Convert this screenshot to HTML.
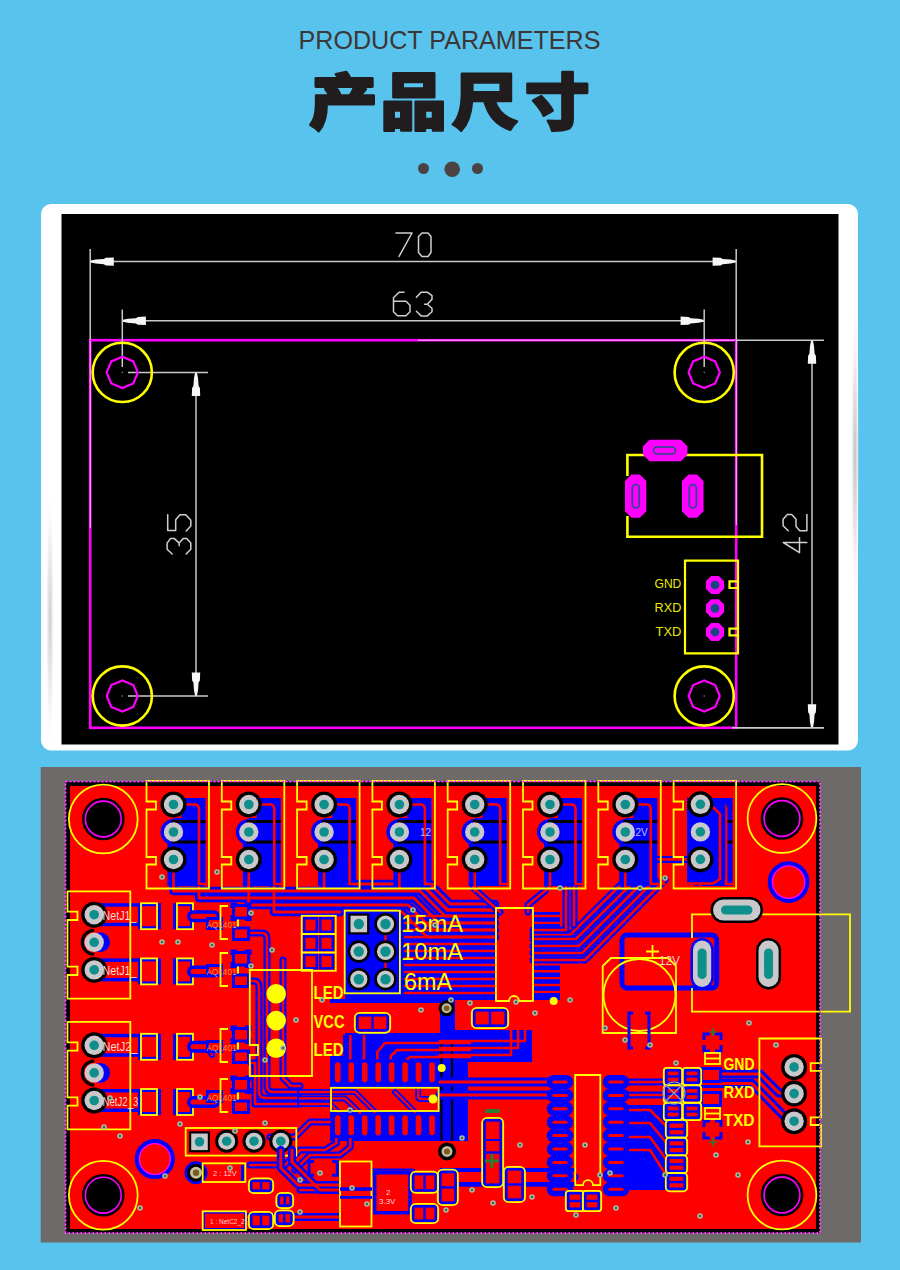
<!DOCTYPE html>
<html><head><meta charset="utf-8"><style>
html,body{margin:0;padding:0;background:#58c3ec;width:900px;height:1270px;overflow:hidden}
svg{display:block;font-family:"Liberation Sans",sans-serif}
</style></head><body>
<svg width="900" height="1270" viewBox="0 0 900 1270">
<rect width="900" height="1270" fill="#58c3ec"/>
<text x="298.5" y="49.3" font-family="Liberation Sans" font-size="26" fill="#3d3636" textLength="302" lengthAdjust="spacingAndGlyphs">PRODUCT PARAMETERS</text>
<path transform="translate(309.06,124.50) scale(0.06869,-0.06087)" d="M390 826C402 807 415 784 426 761H98V623H324L236 585C259 553 283 512 299 477H103V337C103 236 97 94 18 -5C50 -24 116 -81 140 -110C236 9 256 204 256 335H941V477H749L827 579L685 623H922V761H599C587 792 564 832 542 861ZM380 477 447 507C434 541 405 586 377 623H660C645 577 619 519 595 477Z" fill="#211d1e" stroke="#211d1e" stroke-width="2.6" stroke-linejoin="round" vector-effect="non-scaling-stroke"/>
<path transform="translate(380.42,124.72) scale(0.06640,-0.06294)" d="M336 678H661V575H336ZM196 817V437H810V817ZM63 366V-95H200V-47H315V-91H460V366ZM200 92V227H315V92ZM531 366V-95H670V-47H792V-91H938V366ZM670 92V227H792V92Z" fill="#211d1e" stroke="#211d1e" stroke-width="2.6" stroke-linejoin="round" vector-effect="non-scaling-stroke"/>
<path transform="translate(451.90,124.57) scale(0.06653,-0.06129)" d="M151 830V521C151 364 142 146 15 3C49 -15 114 -70 139 -100C250 23 290 219 302 384H488C554 150 658 -8 877 -85C898 -43 943 20 977 51C795 103 693 222 640 384H887V830ZM307 688H734V526H307Z" fill="#211d1e" stroke="#211d1e" stroke-width="2.6" stroke-linejoin="round" vector-effect="non-scaling-stroke"/>
<path transform="translate(524.84,124.65) scale(0.06485,-0.06165)" d="M128 388C192 314 265 212 292 145L428 229C396 299 318 394 253 463ZM580 854V661H41V516H580V89C580 67 570 59 546 59C519 59 435 59 356 63C381 21 412 -53 421 -98C526 -99 609 -93 664 -69C718 -44 737 -3 737 88V516H960V661H737V854Z" fill="#211d1e" stroke="#211d1e" stroke-width="2.6" stroke-linejoin="round" vector-effect="non-scaling-stroke"/>
<g fill="#4a4243"><circle cx="423.5" cy="168.5" r="5.5"/><circle cx="452.2" cy="169.3" r="7.8"/><circle cx="477.5" cy="168.5" r="5.5"/></g>
<defs><radialGradient id="sh"><stop offset="0" stop-color="#b8b8b8" stop-opacity="0.9"/><stop offset="0.5" stop-color="#c8c8c8" stop-opacity="0.45"/><stop offset="1" stop-color="#ffffff" stop-opacity="0"/></radialGradient></defs>
<rect x="41" y="204" width="817" height="546.5" rx="10" fill="#fff"/>
<ellipse cx="855" cy="455" rx="4.5" ry="160" fill="url(#sh)"/>
<ellipse cx="50" cy="620" rx="4.5" ry="140" fill="url(#sh)" opacity="0.8"/>
<rect x="61.5" y="214" width="777" height="530.5" fill="#000"/>
<rect x="90.2" y="340.2" width="646" height="387.6" fill="none" stroke="#ff00ff" stroke-width="2.6"/>
<g stroke="#f2b8f2" stroke-width="1.1" fill="none"><path d="M90.2,341 V528 M736.3,341 V525 M418,340.2 H735"/></g>
<g stroke="#c9c9c9" stroke-width="1.5" fill="none">
<path d="M90.2,249 V340 M736.2,249 V340 M90.2,261.6 H736.2"/>
<path d="M122.3,309.5 V367 M704.2,309.5 V367 M122.3,320.8 H704.2"/>
<path d="M128,372.4 H208 M128,696 H208 M196,372.4 V696"/>
<path d="M736,340.2 H824 M736,727.8 H824 M812,340.2 V727.8"/>
<path d="M732,727.8 H824"/>
</g>
<g fill="#f6f6f6">
<polygon points="90.8,260.6 95.8,259.6 103.8,259.0 105.8,257.7 113.8,257.4 113.8,265.8 105.8,265.5 103.8,264.2 95.8,263.6 90.8,262.6"/>
<polygon points="735.6,262.6 730.6,263.6 722.6,264.2 720.6,265.5 712.6,265.8 712.6,257.4 720.6,257.7 722.6,259.0 730.6,259.6 735.6,260.6"/>
<polygon points="122.9,319.8 127.9,318.8 135.9,318.2 137.9,316.9 145.9,316.6 145.9,325.0 137.9,324.7 135.9,323.4 127.9,322.8 122.9,321.8"/>
<polygon points="703.6,321.8 698.6,322.8 690.6,323.4 688.6,324.7 680.6,325.0 680.6,316.6 688.6,316.9 690.6,318.2 698.6,318.8 703.6,319.8"/>
<polygon points="197.0,373.0 198.0,378.0 198.6,386.0 199.9,388.0 200.2,396.0 191.8,396.0 192.1,388.0 193.4,386.0 194.0,378.0 195.0,373.0"/>
<polygon points="195.0,695.4 194.0,690.4 193.4,682.4 192.1,680.4 191.8,672.4 200.2,672.4 199.9,680.4 198.6,682.4 198.0,690.4 197.0,695.4"/>
<polygon points="813.0,340.8 814.0,345.8 814.6,353.8 815.9,355.8 816.2,363.8 807.8,363.8 808.1,355.8 809.4,353.8 810.0,345.8 811.0,340.8"/>
<polygon points="811.0,727.2 810.0,722.2 809.4,714.2 808.1,712.2 807.8,704.2 816.2,704.2 815.9,712.2 814.6,714.2 814.0,722.2 813.0,727.2"/>
</g>
<g stroke="#d0d0d0" stroke-width="1.5" fill="none" stroke-linejoin="round" stroke-linecap="round">
<path transform="translate(395.5,232.5)" d="M0.5,0.5 L16.5,0.5 L3.5,24"/>
<path transform="translate(418,232.5)" d="M4,0.5 L10,0.5 L13,4 L13,20 L10,24 L4,24 L0.5,20 L0.5,4 Z"/>
<path transform="translate(393,291.8)" d="M11,0.5 L6,0.5 L0.5,6 L0.5,20 L4.5,24 L13,24 L17,20 L17,13.5 L13,9.5 L0.5,9.5"/>
<path transform="translate(416,291.8)" d="M0.4,5.5 L5.1,0.4 L11.3,0.4 L16,3.9 L16,7.4 L11.3,12.5 L8.6,12.5 M11.3,12.5 L16,16.5 L16,19.9 L11.3,24.1 L5.1,24.1 L0.4,19.5"/>
<path transform="translate(166.7,554.4) rotate(-90)" d="M0.4,5.5 L5.1,0.4 L11.3,0.4 L16,3.9 L16,7.4 L11.3,12.5 L8.6,12.5 M11.3,12.5 L16,16.5 L16,19.9 L11.3,24.1 L5.1,24.1 L0.4,19.5"/>
<path transform="translate(166.7,531.4) rotate(-90)" d="M16.7,1 L0.8,1 L0.8,9 L11.6,9 L16.7,13.3 L16.7,19.1 L11.2,24.1 L5.4,24.1 L0.4,19.5"/>
<path transform="translate(782.8,553) rotate(-90)" d="M10.5,0.5 L0.4,16.7 L15.2,16.7 M10.5,0.5 L10.5,24.1"/>
<path transform="translate(782.8,531) rotate(-90)" d="M0.2,5.4 L5.2,0.3 L11.8,0.3 L16.5,4.6 L16.5,8.9 L11.8,13.2 L4.4,13.2 L0.2,17 L0.2,24.1 L16.5,24.1"/>
</g>
<circle cx="122.3" cy="372.4" r="29.6" fill="none" stroke="#ffff00" stroke-width="2.6"/>
<polygon points="122.3,356.8 111.3,361.4 106.7,372.4 111.3,383.4 122.3,388.0 133.3,383.4 137.9,372.4 133.3,361.4" fill="none" stroke="#ff00ff" stroke-width="2.2"/>
<rect x="121.7" y="371.79999999999995" width="1.2" height="1.2" fill="#999"/>
<circle cx="704.2" cy="372.4" r="29.6" fill="none" stroke="#ffff00" stroke-width="2.6"/>
<polygon points="704.2,356.8 693.2,361.4 688.6,372.4 693.2,383.4 704.2,388.0 715.2,383.4 719.8,372.4 715.2,361.4" fill="none" stroke="#ff00ff" stroke-width="2.2"/>
<rect x="703.6" y="371.79999999999995" width="1.2" height="1.2" fill="#999"/>
<circle cx="122.3" cy="696" r="29.6" fill="none" stroke="#ffff00" stroke-width="2.6"/>
<polygon points="122.3,680.4 111.3,685.0 106.7,696.0 111.3,707.0 122.3,711.6 133.3,707.0 137.9,696.0 133.3,685.0" fill="none" stroke="#ff00ff" stroke-width="2.2"/>
<rect x="121.7" y="695.4" width="1.2" height="1.2" fill="#999"/>
<circle cx="704.2" cy="696" r="29.6" fill="none" stroke="#ffff00" stroke-width="2.6"/>
<polygon points="704.2,680.4 693.2,685.0 688.6,696.0 693.2,707.0 704.2,711.6 715.2,707.0 719.8,696.0 715.2,685.0" fill="none" stroke="#ff00ff" stroke-width="2.2"/>
<rect x="703.6" y="695.4" width="1.2" height="1.2" fill="#999"/>
<path d="M627.4,476 V455 H762 V536.7 H627.4 V516" fill="none" stroke="#ffff00" stroke-width="2.6"/>
<polygon points="649.5,439.8 680.9,439.8 687.4,446.3 687.4,454.7 680.9,461.2 649.5,461.2 643,454.7 643,446.3" fill="#ff00ff"/>
<polygon points="631.5,474.4 639.8,474.4 646.3,480.9 646.3,511.29999999999995 639.8,517.8 631.5,517.8 625,511.29999999999995 625,480.9" fill="#ff00ff"/>
<polygon points="688.5,474.4 697.0,474.4 703.5,480.9 703.5,511.29999999999995 697.0,517.8 688.5,517.8 682,511.29999999999995 682,480.9" fill="#ff00ff"/>
<g fill="none" stroke="#1f4f86" stroke-width="1.6">
<rect x="653.5" y="447" width="22" height="7" rx="3.5"/>
<rect x="632.3" y="484.5" width="7" height="23.5" rx="3.5"/>
<rect x="689.3" y="484.5" width="7" height="23.5" rx="3.5"/>
</g>
<path d="M685,560.7 H738 V653.3 H685 Z M738,581.3 H729.5 V588 H738 M738,628.7 H729.5 V635.3 H738" fill="none" stroke="#ffff00" stroke-width="2.2"/>
<polygon points="711.2,575.9 705.9,581.2 705.9,588.8 711.2,594.1 718.8,594.1 724.1,588.8 724.1,581.2 718.8,575.9" fill="#ff00ff"/>
<circle cx="715" cy="585" r="4.3" fill="#124a80"/>
<polygon points="711.2,599.3 705.9,604.6 705.9,612.2 711.2,617.5 718.8,617.5 724.1,612.2 724.1,604.6 718.8,599.3" fill="#ff00ff"/>
<circle cx="715" cy="608.4" r="4.3" fill="#124a80"/>
<polygon points="711.2,622.9 705.9,628.2 705.9,635.8 711.2,641.1 718.8,641.1 724.1,635.8 724.1,628.2 718.8,622.9" fill="#ff00ff"/>
<circle cx="715" cy="632" r="4.3" fill="#124a80"/>
<g fill="#e8e800" font-family="Liberation Sans" font-size="13.5">
<text x="654.5" y="588.2" textLength="26.8" lengthAdjust="spacingAndGlyphs">GND</text>
<text x="654.5" y="611.8" textLength="26.8" lengthAdjust="spacingAndGlyphs">RXD</text>
<text x="655.5" y="635.5" textLength="25.8" lengthAdjust="spacingAndGlyphs">TXD</text>
</g>
<rect x="40.7" y="767" width="820.3" height="475.5" fill="#6e6a6a"/>
<rect x="65.5" y="781.5" width="754.5" height="451.5" fill="#000"/>
<rect x="70" y="786" width="746" height="443" fill="#ff0000"/>
<rect x="345" y="911" width="55.00" height="82.00" rx="0" fill="#0000ff"/>
<rect x="400" y="913" width="95.00" height="87.00" rx="0" fill="#0000ff"/>
<rect x="533" y="912" width="27.00" height="88.00" rx="0" fill="#0000ff"/>
<rect x="330" y="1056" width="112.00" height="85.00" rx="0" fill="#0000ff"/>
<rect x="343" y="1035" width="127.00" height="23.00" rx="0" fill="#0000ff"/>
<rect x="440" y="1030" width="92.00" height="32.00" rx="0" fill="#0000ff"/>
<rect x="440" y="1058" width="28.00" height="83.00" rx="0" fill="#0000ff"/>
<rect x="440.4" y="1040" width="2.20" height="101.00" rx="0" fill="#000"/>
<rect x="451" y="1040" width="2.20" height="101.00" rx="0" fill="#000"/>
<rect x="345" y="993" width="110.00" height="42.00" rx="0" fill="#0000ff"/>
<rect x="330" y="1000" width="110.00" height="33.00" rx="0" fill="#ff0000"/>
<rect x="330" y="999" width="110.00" height="4.00" rx="0" fill="#0000ff"/>
<rect x="331" y="1088.3" width="107.60" height="22.70" rx="0" fill="#ff0000"/>
<rect x="625" y="1105" width="47.00" height="85.00" rx="0" fill="#0000ff"/>
<path d="M173.5,870 V891 H420 L445,916 H495" fill="none" stroke="#0000ff" stroke-width="8.5" stroke-linejoin="round" stroke-linecap="round"/><path d="M199,884 V898 H414 L439,923 H495" fill="none" stroke="#0000ff" stroke-width="8.5" stroke-linejoin="round" stroke-linecap="round"/><path d="M248.8,870 V905 H408 L433,930 H495" fill="none" stroke="#0000ff" stroke-width="8.5" stroke-linejoin="round" stroke-linecap="round"/><path d="M274,884 V912 H340 M400,912 H402 L427,937 H495" fill="none" stroke="#0000ff" stroke-width="8.5" stroke-linejoin="round" stroke-linecap="round"/><path d="M324.1,870 V884 H430 L450,904 H495" fill="none" stroke="#0000ff" stroke-width="8.5" stroke-linejoin="round" stroke-linecap="round"/><path d="M173.5,870 V891 H420 L445,916 H495" fill="none" stroke="#ff0000" stroke-width="2.8" stroke-linejoin="round" stroke-linecap="round"/><path d="M199,884 V898 H414 L439,923 H495" fill="none" stroke="#ff0000" stroke-width="2.8" stroke-linejoin="round" stroke-linecap="round"/><path d="M248.8,870 V905 H408 L433,930 H495" fill="none" stroke="#ff0000" stroke-width="2.8" stroke-linejoin="round" stroke-linecap="round"/><path d="M274,884 V912 H340 M400,912 H402 L427,937 H495" fill="none" stroke="#ff0000" stroke-width="2.8" stroke-linejoin="round" stroke-linecap="round"/><path d="M324.1,870 V884 H430 L450,904 H495" fill="none" stroke="#ff0000" stroke-width="2.8" stroke-linejoin="round" stroke-linecap="round"/>
<path d="M405,916.0 H495" fill="none" stroke="#ff0000" stroke-width="2.6" stroke-linejoin="round" stroke-linecap="round"/><path d="M405,923.0 H495" fill="none" stroke="#ff0000" stroke-width="2.6" stroke-linejoin="round" stroke-linecap="round"/><path d="M405,930.0 H495" fill="none" stroke="#ff0000" stroke-width="2.6" stroke-linejoin="round" stroke-linecap="round"/><path d="M405,937.0 H495" fill="none" stroke="#ff0000" stroke-width="2.6" stroke-linejoin="round" stroke-linecap="round"/><path d="M405,944.0 H495" fill="none" stroke="#ff0000" stroke-width="2.6" stroke-linejoin="round" stroke-linecap="round"/><path d="M405,951.0 H495" fill="none" stroke="#ff0000" stroke-width="2.6" stroke-linejoin="round" stroke-linecap="round"/><path d="M405,958.0 H495" fill="none" stroke="#ff0000" stroke-width="2.6" stroke-linejoin="round" stroke-linecap="round"/><path d="M405,965.0 H495" fill="none" stroke="#ff0000" stroke-width="2.6" stroke-linejoin="round" stroke-linecap="round"/><path d="M405,972.0 H495" fill="none" stroke="#ff0000" stroke-width="2.6" stroke-linejoin="round" stroke-linecap="round"/><path d="M405,979.0 H495" fill="none" stroke="#ff0000" stroke-width="2.6" stroke-linejoin="round" stroke-linecap="round"/><path d="M405,986.0 H495" fill="none" stroke="#ff0000" stroke-width="2.6" stroke-linejoin="round" stroke-linecap="round"/><path d="M405,993.0 H495" fill="none" stroke="#ff0000" stroke-width="2.6" stroke-linejoin="round" stroke-linecap="round"/>
<path d="M533,916.0 H560" fill="none" stroke="#ff0000" stroke-width="2.4" stroke-linejoin="round" stroke-linecap="round"/><path d="M533,922.9 H560" fill="none" stroke="#ff0000" stroke-width="2.4" stroke-linejoin="round" stroke-linecap="round"/><path d="M533,929.8 H560" fill="none" stroke="#ff0000" stroke-width="2.4" stroke-linejoin="round" stroke-linecap="round"/><path d="M533,936.7 H560" fill="none" stroke="#ff0000" stroke-width="2.4" stroke-linejoin="round" stroke-linecap="round"/><path d="M533,943.6 H560" fill="none" stroke="#ff0000" stroke-width="2.4" stroke-linejoin="round" stroke-linecap="round"/><path d="M533,950.5 H560" fill="none" stroke="#ff0000" stroke-width="2.4" stroke-linejoin="round" stroke-linecap="round"/><path d="M533,957.4 H560" fill="none" stroke="#ff0000" stroke-width="2.4" stroke-linejoin="round" stroke-linecap="round"/><path d="M533,964.3 H560" fill="none" stroke="#ff0000" stroke-width="2.4" stroke-linejoin="round" stroke-linecap="round"/><path d="M533,971.2 H560" fill="none" stroke="#ff0000" stroke-width="2.4" stroke-linejoin="round" stroke-linecap="round"/><path d="M533,978.1 H560" fill="none" stroke="#ff0000" stroke-width="2.4" stroke-linejoin="round" stroke-linecap="round"/><path d="M533,985.0 H560" fill="none" stroke="#ff0000" stroke-width="2.4" stroke-linejoin="round" stroke-linecap="round"/><path d="M533,991.9 H560" fill="none" stroke="#ff0000" stroke-width="2.4" stroke-linejoin="round" stroke-linecap="round"/>
<path d="M473.5,870 V888 L500,912" fill="none" stroke="#0000ff" stroke-width="7" stroke-linejoin="round" stroke-linecap="round"/><path d="M548.5,870 V888 L528,905 V912" fill="none" stroke="#0000ff" stroke-width="7" stroke-linejoin="round" stroke-linecap="round"/><path d="M623.5,870 V882 L570,935 H533" fill="none" stroke="#0000ff" stroke-width="7" stroke-linejoin="round" stroke-linecap="round"/><path d="M473.5,870 V888 L500,912" fill="none" stroke="#ff0000" stroke-width="2.6" stroke-linejoin="round" stroke-linecap="round"/><path d="M548.5,870 V888 L528,905 V912" fill="none" stroke="#ff0000" stroke-width="2.6" stroke-linejoin="round" stroke-linecap="round"/><path d="M623.5,870 V882 L570,935 H533" fill="none" stroke="#ff0000" stroke-width="2.6" stroke-linejoin="round" stroke-linecap="round"/>
<path d="M700.4,859.4 H656 L576,939 H533" fill="none" stroke="#0000ff" stroke-width="7" stroke-linejoin="round" stroke-linecap="round"/><path d="M645,880 L579,946 H533" fill="none" stroke="#0000ff" stroke-width="7" stroke-linejoin="round" stroke-linecap="round"/><path d="M655,880 L582,953 H533" fill="none" stroke="#0000ff" stroke-width="7" stroke-linejoin="round" stroke-linecap="round"/><path d="M665,880 L585,960 H533" fill="none" stroke="#0000ff" stroke-width="7" stroke-linejoin="round" stroke-linecap="round"/><path d="M700.4,859.4 H656 L576,939 H533" fill="none" stroke="#ff0000" stroke-width="2.6" stroke-linejoin="round" stroke-linecap="round"/><path d="M645,880 L579,946 H533" fill="none" stroke="#ff0000" stroke-width="2.6" stroke-linejoin="round" stroke-linecap="round"/><path d="M655,880 L582,953 H533" fill="none" stroke="#ff0000" stroke-width="2.6" stroke-linejoin="round" stroke-linecap="round"/><path d="M665,880 L585,960 H533" fill="none" stroke="#ff0000" stroke-width="2.6" stroke-linejoin="round" stroke-linecap="round"/>
<path d="M566,875 V930 H533" fill="none" stroke="#0000ff" stroke-width="7" stroke-linejoin="round" stroke-linecap="round"/><path d="M574,875 V925" fill="none" stroke="#0000ff" stroke-width="7" stroke-linejoin="round" stroke-linecap="round"/><path d="M566,875 V930 H533" fill="none" stroke="#ff0000" stroke-width="2.6" stroke-linejoin="round" stroke-linecap="round"/><path d="M574,875 V925" fill="none" stroke="#ff0000" stroke-width="2.6" stroke-linejoin="round" stroke-linecap="round"/>
<path d="M251,933 H262 Q267,933 267,939 V1086 Q267,1092 273,1092 H300" fill="none" stroke="#0000ff" stroke-width="7" stroke-linejoin="round" stroke-linecap="round"/><path d="M251,981 H254 Q259,981 259,987 V1092 Q259,1098 265,1098 H300" fill="none" stroke="#0000ff" stroke-width="7" stroke-linejoin="round" stroke-linecap="round"/><path d="M283,960 V1078 L291,1086 H300" fill="none" stroke="#0000ff" stroke-width="7" stroke-linejoin="round" stroke-linecap="round"/><path d="M251,1063 H255 V1104 H300" fill="none" stroke="#0000ff" stroke-width="7" stroke-linejoin="round" stroke-linecap="round"/><path d="M251,933 H262 Q267,933 267,939 V1086 Q267,1092 273,1092 H300" fill="none" stroke="#ff0000" stroke-width="2.6" stroke-linejoin="round" stroke-linecap="round"/><path d="M251,981 H254 Q259,981 259,987 V1092 Q259,1098 265,1098 H300" fill="none" stroke="#ff0000" stroke-width="2.6" stroke-linejoin="round" stroke-linecap="round"/><path d="M283,960 V1078 L291,1086 H300" fill="none" stroke="#ff0000" stroke-width="2.6" stroke-linejoin="round" stroke-linecap="round"/><path d="M251,1063 H255 V1104 H300" fill="none" stroke="#ff0000" stroke-width="2.6" stroke-linejoin="round" stroke-linecap="round"/>
<path d="M193,916 H207 L212,924" fill="none" stroke="#0000ff" stroke-width="6" stroke-linejoin="round" stroke-linecap="round"/><path d="M193,1047 H207 L212,1055" fill="none" stroke="#0000ff" stroke-width="6" stroke-linejoin="round" stroke-linecap="round"/><path d="M193,970 H207" fill="none" stroke="#0000ff" stroke-width="6" stroke-linejoin="round" stroke-linecap="round"/><path d="M193,1100 H207" fill="none" stroke="#0000ff" stroke-width="6" stroke-linejoin="round" stroke-linecap="round"/><path d="M193,916 H207 L212,924" fill="none" stroke="#ff0000" stroke-width="2.2" stroke-linejoin="round" stroke-linecap="round"/><path d="M193,1047 H207 L212,1055" fill="none" stroke="#ff0000" stroke-width="2.2" stroke-linejoin="round" stroke-linecap="round"/><path d="M193,970 H207" fill="none" stroke="#ff0000" stroke-width="2.2" stroke-linejoin="round" stroke-linecap="round"/><path d="M193,1100 H207" fill="none" stroke="#ff0000" stroke-width="2.2" stroke-linejoin="round" stroke-linecap="round"/>
<rect x="100" y="903.2" width="41.00" height="23.00" rx="0" fill="#0000ff"/>
<rect x="100" y="906.7" width="41.00" height="16.00" rx="0" fill="#ff0000"/>
<rect x="100" y="958.4000000000001" width="41.00" height="23.00" rx="0" fill="#0000ff"/>
<rect x="100" y="961.9000000000001" width="41.00" height="16.00" rx="0" fill="#ff0000"/>
<rect x="100" y="1033.8" width="41.00" height="23.00" rx="0" fill="#0000ff"/>
<rect x="100" y="1037.3" width="41.00" height="16.00" rx="0" fill="#ff0000"/>
<rect x="100" y="1089.0" width="41.00" height="23.00" rx="0" fill="#0000ff"/>
<rect x="100" y="1092.5" width="41.00" height="16.00" rx="0" fill="#ff0000"/>
<path d="M350.3,1062 V1036" fill="none" stroke="#ff0000" stroke-width="2.6" stroke-linejoin="round" stroke-linecap="round"/><path d="M364,1062 V1036" fill="none" stroke="#ff0000" stroke-width="2.6" stroke-linejoin="round" stroke-linecap="round"/><path d="M377.3,1062 V1052 L385,1043 H470" fill="none" stroke="#ff0000" stroke-width="2.6" stroke-linejoin="round" stroke-linecap="round"/><path d="M390.7,1062 V1056 L397,1050 H470" fill="none" stroke="#ff0000" stroke-width="2.6" stroke-linejoin="round" stroke-linecap="round"/><path d="M404.9,1062 V1061 L410,1057 H470" fill="none" stroke="#ff0000" stroke-width="2.6" stroke-linejoin="round" stroke-linecap="round"/><path d="M440,1041 H525 V998" fill="none" stroke="#ff0000" stroke-width="2.6" stroke-linejoin="round" stroke-linecap="round"/><path d="M440,1048 H518 V998" fill="none" stroke="#ff0000" stroke-width="2.6" stroke-linejoin="round" stroke-linecap="round"/><path d="M440,1055 H511 V998" fill="none" stroke="#ff0000" stroke-width="2.6" stroke-linejoin="round" stroke-linecap="round"/>
<path d="M300,1092 H355 L375,1112" fill="none" stroke="#0000ff" stroke-width="6" stroke-linejoin="round" stroke-linecap="round"/><path d="M300,1098.4 H345 L360,1113" fill="none" stroke="#0000ff" stroke-width="6" stroke-linejoin="round" stroke-linecap="round"/><path d="M300,1104 H330 L340,1114" fill="none" stroke="#0000ff" stroke-width="6" stroke-linejoin="round" stroke-linecap="round"/><path d="M395,1092 L415,1112" fill="none" stroke="#0000ff" stroke-width="6" stroke-linejoin="round" stroke-linecap="round"/><path d="M418.2,1088 V1096 Q418.2,1099 421,1099 H432" fill="none" stroke="#0000ff" stroke-width="6" stroke-linejoin="round" stroke-linecap="round"/><path d="M300,1092 H355 L375,1112" fill="none" stroke="#ff0000" stroke-width="2.4" stroke-linejoin="round" stroke-linecap="round"/><path d="M300,1098.4 H345 L360,1113" fill="none" stroke="#ff0000" stroke-width="2.4" stroke-linejoin="round" stroke-linecap="round"/><path d="M300,1104 H330 L340,1114" fill="none" stroke="#ff0000" stroke-width="2.4" stroke-linejoin="round" stroke-linecap="round"/><path d="M395,1092 L415,1112" fill="none" stroke="#ff0000" stroke-width="2.4" stroke-linejoin="round" stroke-linecap="round"/><path d="M418.2,1088 V1096 Q418.2,1099 421,1099 H432" fill="none" stroke="#ff0000" stroke-width="2.4" stroke-linejoin="round" stroke-linecap="round"/>
<path d="M336.4,1137 V1143 L325,1150 H300 L285,1165 H250" fill="none" stroke="#0000ff" stroke-width="7" stroke-linejoin="round" stroke-linecap="round"/><path d="M350.3,1137 V1147 L340,1155 H310 L295,1170" fill="none" stroke="#0000ff" stroke-width="7" stroke-linejoin="round" stroke-linecap="round"/><path d="M330,1122 H310 L295,1137 H270" fill="none" stroke="#0000ff" stroke-width="7" stroke-linejoin="round" stroke-linecap="round"/><path d="M336.4,1137 V1143 L325,1150 H300 L285,1165 H250" fill="none" stroke="#ff0000" stroke-width="2.6" stroke-linejoin="round" stroke-linecap="round"/><path d="M350.3,1137 V1147 L340,1155 H310 L295,1170" fill="none" stroke="#ff0000" stroke-width="2.6" stroke-linejoin="round" stroke-linecap="round"/><path d="M330,1122 H310 L295,1137 H270" fill="none" stroke="#ff0000" stroke-width="2.6" stroke-linejoin="round" stroke-linecap="round"/>
<path d="M440,1082 H560" fill="none" stroke="#0000ff" stroke-width="9" stroke-linejoin="round" stroke-linecap="round"/><path d="M440,1095 H560" fill="none" stroke="#0000ff" stroke-width="9" stroke-linejoin="round" stroke-linecap="round"/><path d="M440,1082 H560" fill="none" stroke="#ff0000" stroke-width="3" stroke-linejoin="round" stroke-linecap="round"/><path d="M440,1095 H560" fill="none" stroke="#ff0000" stroke-width="3" stroke-linejoin="round" stroke-linecap="round"/>
<path d="M625,1110 H650 L668,1128" fill="none" stroke="#ff0000" stroke-width="2.6" stroke-linejoin="round" stroke-linecap="round"/><path d="M625,1123 H650 L668,1145" fill="none" stroke="#ff0000" stroke-width="2.6" stroke-linejoin="round" stroke-linecap="round"/><path d="M625,1137 H650 L668,1162" fill="none" stroke="#ff0000" stroke-width="2.6" stroke-linejoin="round" stroke-linecap="round"/><path d="M625,1150 H650 L668,1178" fill="none" stroke="#ff0000" stroke-width="2.6" stroke-linejoin="round" stroke-linecap="round"/>
<path d="M625,1082 H672" fill="none" stroke="#0000ff" stroke-width="7" stroke-linejoin="round" stroke-linecap="round"/><path d="M625,1095 H672" fill="none" stroke="#0000ff" stroke-width="7" stroke-linejoin="round" stroke-linecap="round"/><path d="M625,1082 H672" fill="none" stroke="#ff0000" stroke-width="2.6" stroke-linejoin="round" stroke-linecap="round"/><path d="M625,1095 H672" fill="none" stroke="#ff0000" stroke-width="2.6" stroke-linejoin="round" stroke-linecap="round"/>
<path d="M440,1177 H575" fill="none" stroke="#0000ff" stroke-width="7" stroke-linejoin="round" stroke-linecap="round"/><path d="M300,1190 H340" fill="none" stroke="#0000ff" stroke-width="7" stroke-linejoin="round" stroke-linecap="round"/><path d="M372,1172 H412" fill="none" stroke="#0000ff" stroke-width="7" stroke-linejoin="round" stroke-linecap="round"/><path d="M440,1177 H575" fill="none" stroke="#ff0000" stroke-width="2.6" stroke-linejoin="round" stroke-linecap="round"/><path d="M300,1190 H340" fill="none" stroke="#ff0000" stroke-width="2.6" stroke-linejoin="round" stroke-linecap="round"/><path d="M372,1172 H412" fill="none" stroke="#ff0000" stroke-width="2.6" stroke-linejoin="round" stroke-linecap="round"/>
<rect x="440" y="1168" width="135.00" height="18.70" rx="0" fill="#0000ff"/>
<rect x="440" y="1172" width="135.00" height="10.00" rx="0" fill="#ff0000"/>
<path d="M690,1074 H760 L779,1093 H794" fill="none" stroke="#0000ff" stroke-width="9" stroke-linejoin="round" stroke-linecap="round"/><path d="M690,1083.5 H752 L789,1121 H794" fill="none" stroke="#0000ff" stroke-width="9" stroke-linejoin="round" stroke-linecap="round"/><path d="M690,1074 H760 L779,1093 H794" fill="none" stroke="#ff0000" stroke-width="3.2" stroke-linejoin="round" stroke-linecap="round"/><path d="M690,1083.5 H752 L789,1121 H794" fill="none" stroke="#ff0000" stroke-width="3.2" stroke-linejoin="round" stroke-linecap="round"/>
<path d="M181.5,798 H205.5 V886 H167.5 V842 H173.5 V818 H181.5 Z" fill="#0000ff"/>
<circle cx="173.5" cy="832" r="13" fill="#0000ff"/>
<rect x="171.5" y="820" width="34.00" height="3.00" rx="0" fill="#000"/>
<rect x="171.5" y="840.5" width="34.00" height="3.00" rx="0" fill="#000"/>
<path d="M182.5,804.5 H194.5 Q199.0,804.5 199.0,809 V884 H213.5" fill="none" stroke="#ff0000" stroke-width="2.6"/>
<path d="M173.5,870 V892" fill="none" stroke="#ff0000" stroke-width="2.6"/>
<circle cx="173.5" cy="804.5" r="13" fill="#000"/><circle cx="173.5" cy="804.5" r="9.7" fill="#cbc8cb"/><circle cx="173.5" cy="804.5" r="4.8" fill="#0e8f8c"/>
<circle cx="173.5" cy="832" r="9.7" fill="#cbc8cb"/><circle cx="173.5" cy="832" r="4.8" fill="#0e8f8c"/>
<circle cx="173.5" cy="859.5" r="13" fill="#000"/><circle cx="173.5" cy="859.5" r="9.7" fill="#cbc8cb"/><circle cx="173.5" cy="859.5" r="4.8" fill="#0e8f8c"/>
<path d="M146.5,780.8 H209.0 V888.5 H146.5 V864.5 H156.0 V857 H146.5 V809.5 H156.0 V801.5 H146.5 Z" fill="none" stroke="#ffff00" stroke-width="1.8"/>
<path d="M256.8,798 H280.8 V886 H242.8 V842 H248.8 V818 H256.8 Z" fill="#0000ff"/>
<circle cx="248.8" cy="832" r="13" fill="#0000ff"/>
<rect x="246.8" y="820" width="34.00" height="3.00" rx="0" fill="#000"/>
<rect x="246.8" y="840.5" width="34.00" height="3.00" rx="0" fill="#000"/>
<path d="M257.8,804.5 H269.8 Q274.3,804.5 274.3,809 V884 H288.8" fill="none" stroke="#ff0000" stroke-width="2.6"/>
<path d="M248.8,870 V892" fill="none" stroke="#ff0000" stroke-width="2.6"/>
<circle cx="248.8" cy="804.5" r="13" fill="#000"/><circle cx="248.8" cy="804.5" r="9.7" fill="#cbc8cb"/><circle cx="248.8" cy="804.5" r="4.8" fill="#0e8f8c"/>
<circle cx="248.8" cy="832" r="9.7" fill="#cbc8cb"/><circle cx="248.8" cy="832" r="4.8" fill="#0e8f8c"/>
<circle cx="248.8" cy="859.5" r="13" fill="#000"/><circle cx="248.8" cy="859.5" r="9.7" fill="#cbc8cb"/><circle cx="248.8" cy="859.5" r="4.8" fill="#0e8f8c"/>
<path d="M221.8,780.8 H284.3 V888.5 H221.8 V864.5 H231.3 V857 H221.8 V809.5 H231.3 V801.5 H221.8 Z" fill="none" stroke="#ffff00" stroke-width="1.8"/>
<path d="M332.1,798 H356.1 V886 H318.1 V842 H324.1 V818 H332.1 Z" fill="#0000ff"/>
<circle cx="324.1" cy="832" r="13" fill="#0000ff"/>
<rect x="322.1" y="820" width="34.00" height="3.00" rx="0" fill="#000"/>
<rect x="322.1" y="840.5" width="34.00" height="3.00" rx="0" fill="#000"/>
<path d="M333.1,804.5 H345.1 Q349.6,804.5 349.6,809 V884 H364.1" fill="none" stroke="#ff0000" stroke-width="2.6"/>
<path d="M324.1,870 V892" fill="none" stroke="#ff0000" stroke-width="2.6"/>
<circle cx="324.1" cy="804.5" r="13" fill="#000"/><circle cx="324.1" cy="804.5" r="9.7" fill="#cbc8cb"/><circle cx="324.1" cy="804.5" r="4.8" fill="#0e8f8c"/>
<circle cx="324.1" cy="832" r="9.7" fill="#cbc8cb"/><circle cx="324.1" cy="832" r="4.8" fill="#0e8f8c"/>
<circle cx="324.1" cy="859.5" r="13" fill="#000"/><circle cx="324.1" cy="859.5" r="9.7" fill="#cbc8cb"/><circle cx="324.1" cy="859.5" r="4.8" fill="#0e8f8c"/>
<path d="M297.1,780.8 H359.6 V888.5 H297.1 V864.5 H306.6 V857 H297.1 V809.5 H306.6 V801.5 H297.1 Z" fill="none" stroke="#ffff00" stroke-width="1.8"/>
<path d="M407.4,798 H431.4 V886 H393.4 V842 H399.4 V818 H407.4 Z" fill="#0000ff"/>
<circle cx="399.4" cy="832" r="13" fill="#0000ff"/>
<rect x="397.4" y="820" width="34.00" height="3.00" rx="0" fill="#000"/>
<rect x="397.4" y="840.5" width="34.00" height="3.00" rx="0" fill="#000"/>
<path d="M408.4,804.5 H420.4 Q424.9,804.5 424.9,809 V884 H439.4" fill="none" stroke="#ff0000" stroke-width="2.6"/>
<path d="M399.4,870 V892" fill="none" stroke="#ff0000" stroke-width="2.6"/>
<circle cx="399.4" cy="804.5" r="13" fill="#000"/><circle cx="399.4" cy="804.5" r="9.7" fill="#cbc8cb"/><circle cx="399.4" cy="804.5" r="4.8" fill="#0e8f8c"/>
<circle cx="399.4" cy="832" r="9.7" fill="#cbc8cb"/><circle cx="399.4" cy="832" r="4.8" fill="#0e8f8c"/>
<circle cx="399.4" cy="859.5" r="13" fill="#000"/><circle cx="399.4" cy="859.5" r="9.7" fill="#cbc8cb"/><circle cx="399.4" cy="859.5" r="4.8" fill="#0e8f8c"/>
<path d="M372.4,780.8 H434.9 V888.5 H372.4 V864.5 H381.9 V857 H372.4 V809.5 H381.9 V801.5 H372.4 Z" fill="none" stroke="#ffff00" stroke-width="1.8"/>
<path d="M482.7,798 H506.7 V886 H468.7 V842 H474.7 V818 H482.7 Z" fill="#0000ff"/>
<circle cx="474.7" cy="832" r="13" fill="#0000ff"/>
<rect x="472.7" y="820" width="34.00" height="3.00" rx="0" fill="#000"/>
<rect x="472.7" y="840.5" width="34.00" height="3.00" rx="0" fill="#000"/>
<path d="M483.7,804.5 H495.7 Q500.2,804.5 500.2,809 V884 H514.7" fill="none" stroke="#ff0000" stroke-width="2.6"/>
<path d="M474.7,870 V892" fill="none" stroke="#ff0000" stroke-width="2.6"/>
<circle cx="474.7" cy="804.5" r="13" fill="#000"/><circle cx="474.7" cy="804.5" r="9.7" fill="#cbc8cb"/><circle cx="474.7" cy="804.5" r="4.8" fill="#0e8f8c"/>
<circle cx="474.7" cy="832" r="9.7" fill="#cbc8cb"/><circle cx="474.7" cy="832" r="4.8" fill="#0e8f8c"/>
<circle cx="474.7" cy="859.5" r="13" fill="#000"/><circle cx="474.7" cy="859.5" r="9.7" fill="#cbc8cb"/><circle cx="474.7" cy="859.5" r="4.8" fill="#0e8f8c"/>
<path d="M447.7,780.8 H510.2 V888.5 H447.7 V864.5 H457.2 V857 H447.7 V809.5 H457.2 V801.5 H447.7 Z" fill="none" stroke="#ffff00" stroke-width="1.8"/>
<path d="M558.0,798 H582.0 V886 H544.0 V842 H550.0 V818 H558.0 Z" fill="#0000ff"/>
<circle cx="550.0" cy="832" r="13" fill="#0000ff"/>
<rect x="548.0" y="820" width="34.00" height="3.00" rx="0" fill="#000"/>
<rect x="548.0" y="840.5" width="34.00" height="3.00" rx="0" fill="#000"/>
<path d="M559.0,804.5 H571.0 Q575.5,804.5 575.5,809 V884 H590.0" fill="none" stroke="#ff0000" stroke-width="2.6"/>
<path d="M550.0,870 V892" fill="none" stroke="#ff0000" stroke-width="2.6"/>
<circle cx="550.0" cy="804.5" r="13" fill="#000"/><circle cx="550.0" cy="804.5" r="9.7" fill="#cbc8cb"/><circle cx="550.0" cy="804.5" r="4.8" fill="#0e8f8c"/>
<circle cx="550.0" cy="832" r="9.7" fill="#cbc8cb"/><circle cx="550.0" cy="832" r="4.8" fill="#0e8f8c"/>
<circle cx="550.0" cy="859.5" r="13" fill="#000"/><circle cx="550.0" cy="859.5" r="9.7" fill="#cbc8cb"/><circle cx="550.0" cy="859.5" r="4.8" fill="#0e8f8c"/>
<path d="M523.0,780.8 H585.5 V888.5 H523.0 V864.5 H532.5 V857 H523.0 V809.5 H532.5 V801.5 H523.0 Z" fill="none" stroke="#ffff00" stroke-width="1.8"/>
<path d="M633.3,798 H657.3 V886 H619.3 V842 H625.3 V818 H633.3 Z" fill="#0000ff"/>
<circle cx="625.3" cy="832" r="13" fill="#0000ff"/>
<rect x="623.3" y="820" width="34.00" height="3.00" rx="0" fill="#000"/>
<rect x="623.3" y="840.5" width="34.00" height="3.00" rx="0" fill="#000"/>
<path d="M634.3,804.5 H646.3 Q650.8,804.5 650.8,809 V884 H665.3" fill="none" stroke="#ff0000" stroke-width="2.6"/>
<path d="M625.3,870 V892" fill="none" stroke="#ff0000" stroke-width="2.6"/>
<circle cx="625.3" cy="804.5" r="13" fill="#000"/><circle cx="625.3" cy="804.5" r="9.7" fill="#cbc8cb"/><circle cx="625.3" cy="804.5" r="4.8" fill="#0e8f8c"/>
<circle cx="625.3" cy="832" r="9.7" fill="#cbc8cb"/><circle cx="625.3" cy="832" r="4.8" fill="#0e8f8c"/>
<circle cx="625.3" cy="859.5" r="13" fill="#000"/><circle cx="625.3" cy="859.5" r="9.7" fill="#cbc8cb"/><circle cx="625.3" cy="859.5" r="4.8" fill="#0e8f8c"/>
<path d="M598.3,780.8 H660.8 V888.5 H598.3 V864.5 H607.8 V857 H598.3 V809.5 H607.8 V801.5 H598.3 Z" fill="none" stroke="#ffff00" stroke-width="1.8"/>
<path d="M708.6,798 H732.6 V886 H694.6 V842 H700.6 V818 H708.6 Z" fill="#0000ff"/>
<circle cx="700.6" cy="832" r="13" fill="#0000ff"/>
<rect x="698.6" y="820" width="34.00" height="3.00" rx="0" fill="#000"/>
<rect x="698.6" y="840.5" width="34.00" height="3.00" rx="0" fill="#000"/>
<path d="M709.6,804.5 H721.6 Q726.1,804.5 726.1,809 V884 H740.6" fill="none" stroke="#ff0000" stroke-width="2.6"/>
<path d="M700.6,870 V892" fill="none" stroke="#ff0000" stroke-width="2.6"/>
<circle cx="700.6" cy="804.5" r="13" fill="#000"/><circle cx="700.6" cy="804.5" r="9.7" fill="#cbc8cb"/><circle cx="700.6" cy="804.5" r="4.8" fill="#0e8f8c"/>
<circle cx="700.6" cy="832" r="9.7" fill="#cbc8cb"/><circle cx="700.6" cy="832" r="4.8" fill="#0e8f8c"/>
<circle cx="700.6" cy="859.5" r="13" fill="#000"/><circle cx="700.6" cy="859.5" r="9.7" fill="#cbc8cb"/><circle cx="700.6" cy="859.5" r="4.8" fill="#0e8f8c"/>
<path d="M673.6,780.8 H736.1 V888.5 H673.6 V864.5 H683.1 V857 H673.6 V809.5 H683.1 V801.5 H673.6 Z" fill="none" stroke="#ffff00" stroke-width="1.8"/>
<path d="M687,798 H719 L725.3,805 V878 L718,885 H687 Z" fill="#0000ff"/>
<path d="M710,804.3 L720,814 V879 L713,883.5 H680" fill="none" stroke="#ff0000" stroke-width="2.6"/>
<circle cx="700.4" cy="804.3" r="13" fill="#000"/><circle cx="700.4" cy="804.3" r="9.7" fill="#cbc8cb"/><circle cx="700.4" cy="804.3" r="4.8" fill="#0e8f8c"/>
<circle cx="700.4" cy="831.9" r="9.7" fill="#cbc8cb"/><circle cx="700.4" cy="831.9" r="4.8" fill="#0e8f8c"/>
<circle cx="700.4" cy="859.4" r="13" fill="#000"/><circle cx="700.4" cy="859.4" r="9.7" fill="#cbc8cb"/><circle cx="700.4" cy="859.4" r="4.8" fill="#0e8f8c"/>
<text x="420" y="836" font-size="10" fill="#c0c0ff" >12</text>
<text x="630" y="836" font-size="10" fill="#c0c0ff" >12V</text>
<circle cx="788.6" cy="882.1" r="18.6" fill="#ff0000" stroke="#0000ff" stroke-width="4.5"/><circle cx="788.6" cy="882.1" r="16.2" fill="none" stroke="#ff00ff" stroke-width="1.4"/>
<circle cx="103.3" cy="819" r="21.3" fill="#000"/><circle cx="103.3" cy="819" r="17.9" fill="none" stroke="#ff00ff" stroke-width="1.6"/><circle cx="103.3" cy="819" r="34.4" fill="none" stroke="#ffff00" stroke-width="1.8"/>
<circle cx="782" cy="818.5" r="21.3" fill="#000"/><circle cx="782" cy="818.5" r="17.9" fill="none" stroke="#ff00ff" stroke-width="1.6"/><circle cx="782" cy="818.5" r="34.4" fill="none" stroke="#ffff00" stroke-width="1.8"/>
<circle cx="103.3" cy="1195.2" r="21.3" fill="#000"/><circle cx="103.3" cy="1195.2" r="17.9" fill="none" stroke="#ff00ff" stroke-width="1.6"/><circle cx="103.3" cy="1195.2" r="34.4" fill="none" stroke="#ffff00" stroke-width="1.8"/>
<circle cx="782" cy="1195" r="21.3" fill="#000"/><circle cx="782" cy="1195" r="17.9" fill="none" stroke="#ff00ff" stroke-width="1.6"/><circle cx="782" cy="1195" r="34.4" fill="none" stroke="#ffff00" stroke-width="1.8"/>
<circle cx="100" cy="942.3000000000001" r="10" fill="#0000ff"/>
<circle cx="94.2" cy="914.7" r="13" fill="#000"/><circle cx="94.2" cy="914.7" r="9.7" fill="#cbc8cb"/><circle cx="94.2" cy="914.7" r="4.8" fill="#0e8f8c"/>
<circle cx="94.2" cy="942.3000000000001" r="9.7" fill="#cbc8cb"/><circle cx="94.2" cy="942.3000000000001" r="4.8" fill="#0e8f8c"/>
<circle cx="94.2" cy="969.9000000000001" r="13" fill="#000"/><circle cx="94.2" cy="969.9000000000001" r="9.7" fill="#cbc8cb"/><circle cx="94.2" cy="969.9000000000001" r="4.8" fill="#0e8f8c"/>
<path d="M94.2,930.3000000000001 A12,12 0 0 0 94.2,954.3000000000001" fill="none" stroke="#000" stroke-width="3"/>
<path d="M67.5,891.3000000000001 H130.3 V998.7 H67.5 V975.0 H77.5 V966.7 H67.5 V920.0 H77.5 V911.7 H67.5 Z" fill="none" stroke="#ffff00" stroke-width="1.8"/>
<text x="102.5" y="919.9000000000001" font-size="13.5" fill="#f6dada" textLength="34" lengthAdjust="spacingAndGlyphs">NetJ1_</text>
<text x="102.5" y="975.2" font-size="13.5" fill="#f6dada" textLength="34" lengthAdjust="spacingAndGlyphs">NetJ1_</text>
<rect x="138" y="903.2" width="23.00" height="26.00" rx="0" fill="#0000ff"/>
<rect x="142" y="906.2" width="15.00" height="20.00" rx="0" fill="#ff0000"/>
<rect x="141" y="903.2" width="16.00" height="26.00" rx="0" fill="none" stroke="#ffff00" stroke-width="1.8"/>
<rect x="173" y="903.2" width="20.00" height="26.00" rx="0" fill="#0000ff"/>
<rect x="178" y="906.2" width="12.00" height="20.00" rx="0" fill="#ff0000"/>
<rect x="177" y="903.2" width="16.00" height="26.00" rx="0" fill="none" stroke="#ffff00" stroke-width="1.8"/>
<path d="M193,916.2 H214" fill="none" stroke="#0000ff" stroke-width="12" stroke-linejoin="round" stroke-linecap="round"/><path d="M193,916.2 H214" fill="none" stroke="#ff0000" stroke-width="5" stroke-linejoin="round" stroke-linecap="round"/>
<rect x="138" y="958.4000000000001" width="23.00" height="26.00" rx="0" fill="#0000ff"/>
<rect x="142" y="961.4000000000001" width="15.00" height="20.00" rx="0" fill="#ff0000"/>
<rect x="141" y="958.4000000000001" width="16.00" height="26.00" rx="0" fill="none" stroke="#ffff00" stroke-width="1.8"/>
<rect x="173" y="958.4000000000001" width="20.00" height="26.00" rx="0" fill="#0000ff"/>
<rect x="178" y="961.4000000000001" width="12.00" height="20.00" rx="0" fill="#ff0000"/>
<rect x="177" y="958.4000000000001" width="16.00" height="26.00" rx="0" fill="none" stroke="#ffff00" stroke-width="1.8"/>
<path d="M193,971.4000000000001 H214" fill="none" stroke="#0000ff" stroke-width="12" stroke-linejoin="round" stroke-linecap="round"/><path d="M193,971.4000000000001 H214" fill="none" stroke="#ff0000" stroke-width="5" stroke-linejoin="round" stroke-linecap="round"/>
<circle cx="100" cy="1072.8999999999999" r="10" fill="#0000ff"/>
<circle cx="94.2" cy="1045.3" r="13" fill="#000"/><circle cx="94.2" cy="1045.3" r="9.7" fill="#cbc8cb"/><circle cx="94.2" cy="1045.3" r="4.8" fill="#0e8f8c"/>
<circle cx="94.2" cy="1072.8999999999999" r="9.7" fill="#cbc8cb"/><circle cx="94.2" cy="1072.8999999999999" r="4.8" fill="#0e8f8c"/>
<circle cx="94.2" cy="1100.5" r="13" fill="#000"/><circle cx="94.2" cy="1100.5" r="9.7" fill="#cbc8cb"/><circle cx="94.2" cy="1100.5" r="4.8" fill="#0e8f8c"/>
<path d="M94.2,1060.8999999999999 A12,12 0 0 0 94.2,1084.8999999999999" fill="none" stroke="#000" stroke-width="3"/>
<path d="M67.5,1021.9 H130.3 V1129.3 H67.5 V1105.6 H77.5 V1097.3 H67.5 V1050.6 H77.5 V1042.3 H67.5 Z" fill="none" stroke="#ffff00" stroke-width="1.8"/>
<text x="102.5" y="1050.5" font-size="13.5" fill="#f6dada" textLength="35" lengthAdjust="spacingAndGlyphs">NetJ2_</text>
<text x="102.5" y="1105.8" font-size="13.5" fill="#f6dada" textLength="36" lengthAdjust="spacingAndGlyphs">NetJ2_3</text>
<rect x="138" y="1033.8" width="23.00" height="26.00" rx="0" fill="#0000ff"/>
<rect x="142" y="1036.8" width="15.00" height="20.00" rx="0" fill="#ff0000"/>
<rect x="141" y="1033.8" width="16.00" height="26.00" rx="0" fill="none" stroke="#ffff00" stroke-width="1.8"/>
<rect x="173" y="1033.8" width="20.00" height="26.00" rx="0" fill="#0000ff"/>
<rect x="178" y="1036.8" width="12.00" height="20.00" rx="0" fill="#ff0000"/>
<rect x="177" y="1033.8" width="16.00" height="26.00" rx="0" fill="none" stroke="#ffff00" stroke-width="1.8"/>
<path d="M193,1046.8 H214" fill="none" stroke="#0000ff" stroke-width="12" stroke-linejoin="round" stroke-linecap="round"/><path d="M193,1046.8 H214" fill="none" stroke="#ff0000" stroke-width="5" stroke-linejoin="round" stroke-linecap="round"/>
<rect x="138" y="1089.0" width="23.00" height="26.00" rx="0" fill="#0000ff"/>
<rect x="142" y="1092.0" width="15.00" height="20.00" rx="0" fill="#ff0000"/>
<rect x="141" y="1089.0" width="16.00" height="26.00" rx="0" fill="none" stroke="#ffff00" stroke-width="1.8"/>
<rect x="173" y="1089.0" width="20.00" height="26.00" rx="0" fill="#0000ff"/>
<rect x="178" y="1092.0" width="12.00" height="20.00" rx="0" fill="#ff0000"/>
<rect x="177" y="1089.0" width="16.00" height="26.00" rx="0" fill="none" stroke="#ffff00" stroke-width="1.8"/>
<path d="M193,1102.0 H214" fill="none" stroke="#0000ff" stroke-width="12" stroke-linejoin="round" stroke-linecap="round"/><path d="M193,1102.0 H214" fill="none" stroke="#ff0000" stroke-width="5" stroke-linejoin="round" stroke-linecap="round"/>
<rect x="232" y="904" width="18.00" height="15.50" rx="0" fill="#0000ff"/><rect x="235" y="907" width="12.00" height="9.50" rx="0" fill="#ff0000"/>
<rect x="232" y="926.5" width="18.00" height="14.50" rx="0" fill="#0000ff"/><rect x="235" y="929.5" width="12.00" height="8.50" rx="0" fill="#ff0000"/>
<rect x="206" y="917" width="17.00" height="13.00" rx="0" fill="#0000ff"/><rect x="209" y="920" width="11.00" height="7.00" rx="0" fill="#ff0000"/>
<path d="M232,908 V904 H237 M245,904 H250 V908 M232,915 V919.5 H237 M245,919.5 H250 V915" fill="none" stroke="#0000ff" stroke-width="3"/>
<path d="M228,906 H220.5 V939 H228" fill="none" stroke="#ffff00" stroke-width="1.8"/>
<rect x="236.8" y="919.5" width="2.20" height="7.00" rx="0" fill="#ffff00"/>
<text x="206.5" y="928" font-size="9.5" fill="#ffb84a" textLength="30" lengthAdjust="spacingAndGlyphs" opacity="0.8">AQ1401</text>
<rect x="232" y="951" width="18.00" height="15.50" rx="0" fill="#0000ff"/><rect x="235" y="954" width="12.00" height="9.50" rx="0" fill="#ff0000"/>
<rect x="232" y="973.5" width="18.00" height="14.50" rx="0" fill="#0000ff"/><rect x="235" y="976.5" width="12.00" height="8.50" rx="0" fill="#ff0000"/>
<rect x="206" y="964" width="17.00" height="13.00" rx="0" fill="#0000ff"/><rect x="209" y="967" width="11.00" height="7.00" rx="0" fill="#ff0000"/>
<path d="M232,955 V951 H237 M245,951 H250 V955 M232,962 V966.5 H237 M245,966.5 H250 V962" fill="none" stroke="#0000ff" stroke-width="3"/>
<path d="M228,953 H220.5 V986 H228" fill="none" stroke="#ffff00" stroke-width="1.8"/>
<rect x="236.8" y="966.5" width="2.20" height="7.00" rx="0" fill="#ffff00"/>
<text x="206.5" y="975" font-size="9.5" fill="#ffb84a" textLength="30" lengthAdjust="spacingAndGlyphs" opacity="0.8">AQ1401</text>
<rect x="232" y="1027" width="18.00" height="15.50" rx="0" fill="#0000ff"/><rect x="235" y="1030" width="12.00" height="9.50" rx="0" fill="#ff0000"/>
<rect x="232" y="1049.5" width="18.00" height="14.50" rx="0" fill="#0000ff"/><rect x="235" y="1052.5" width="12.00" height="8.50" rx="0" fill="#ff0000"/>
<rect x="206" y="1040" width="17.00" height="13.00" rx="0" fill="#0000ff"/><rect x="209" y="1043" width="11.00" height="7.00" rx="0" fill="#ff0000"/>
<path d="M232,1031 V1027 H237 M245,1027 H250 V1031 M232,1038 V1042.5 H237 M245,1042.5 H250 V1038" fill="none" stroke="#0000ff" stroke-width="3"/>
<path d="M228,1029 H220.5 V1062 H228" fill="none" stroke="#ffff00" stroke-width="1.8"/>
<rect x="236.8" y="1042.5" width="2.20" height="7.00" rx="0" fill="#ffff00"/>
<text x="206.5" y="1051" font-size="9.5" fill="#ffb84a" textLength="30" lengthAdjust="spacingAndGlyphs" opacity="0.8">AQ1401</text>
<rect x="232" y="1077" width="18.00" height="15.50" rx="0" fill="#0000ff"/><rect x="235" y="1080" width="12.00" height="9.50" rx="0" fill="#ff0000"/>
<rect x="232" y="1099.5" width="18.00" height="14.50" rx="0" fill="#0000ff"/><rect x="235" y="1102.5" width="12.00" height="8.50" rx="0" fill="#ff0000"/>
<rect x="206" y="1090" width="17.00" height="13.00" rx="0" fill="#0000ff"/><rect x="209" y="1093" width="11.00" height="7.00" rx="0" fill="#ff0000"/>
<path d="M232,1081 V1077 H237 M245,1077 H250 V1081 M232,1088 V1092.5 H237 M245,1092.5 H250 V1088" fill="none" stroke="#0000ff" stroke-width="3"/>
<path d="M228,1079 H220.5 V1112 H228" fill="none" stroke="#ffff00" stroke-width="1.8"/>
<rect x="236.8" y="1092.5" width="2.20" height="7.00" rx="0" fill="#ffff00"/>
<text x="206.5" y="1101" font-size="9.5" fill="#ffb84a" textLength="30" lengthAdjust="spacingAndGlyphs" opacity="0.8">AQ1401</text>
<rect x="303" y="917.0" width="15.00" height="16.00" rx="0" fill="#0000ff"/><rect x="305.5" y="919.5" width="10.00" height="11.00" rx="0" fill="#ff0000"/>
<rect x="319" y="917.0" width="15.00" height="16.00" rx="0" fill="#0000ff"/><rect x="321.5" y="919.5" width="10.00" height="11.00" rx="0" fill="#ff0000"/>
<rect x="303" y="935.3" width="15.00" height="16.00" rx="0" fill="#0000ff"/><rect x="305.5" y="937.8" width="10.00" height="11.00" rx="0" fill="#ff0000"/>
<rect x="319" y="935.3" width="15.00" height="16.00" rx="0" fill="#0000ff"/><rect x="321.5" y="937.8" width="10.00" height="11.00" rx="0" fill="#ff0000"/>
<rect x="303" y="953.6" width="15.00" height="16.00" rx="0" fill="#0000ff"/><rect x="305.5" y="956.1" width="10.00" height="11.00" rx="0" fill="#ff0000"/>
<rect x="319" y="953.6" width="15.00" height="16.00" rx="0" fill="#0000ff"/><rect x="321.5" y="956.1" width="10.00" height="11.00" rx="0" fill="#ff0000"/>
<rect x="301.7" y="915.8" width="34.10" height="55.00" rx="0" fill="none" stroke="#ffff00" stroke-width="1.8"/>
<path d="M301.7,934 H335.8 M301.7,952.5 H335.8" fill="none" stroke="#ffff00" stroke-width="1.8"/>
<path d="M385.5,924 V979.2" fill="none" stroke="#ff0000" stroke-width="2.4" stroke-linejoin="round" stroke-linecap="round"/>
<rect x="348.3" y="913.5" width="21.00" height="21.00" rx="0" fill="#000"/>
<rect x="350.5" y="915.7" width="16.6" height="16.6" fill="#cbc8cb"/><circle cx="358.8" cy="924" r="5.2" fill="#0e8f8c"/>
<circle cx="385.5" cy="924" r="11.2" fill="#000"/><circle cx="385.5" cy="924" r="8.6" fill="#cbc8cb"/><circle cx="385.5" cy="924" r="5.2" fill="#0e8f8c"/>
<circle cx="358.8" cy="951.5" r="11.2" fill="#000"/><circle cx="358.8" cy="951.5" r="8.6" fill="#cbc8cb"/><circle cx="358.8" cy="951.5" r="5.2" fill="#0e8f8c"/>
<circle cx="385.5" cy="951.5" r="11.2" fill="#000"/><circle cx="385.5" cy="951.5" r="8.6" fill="#cbc8cb"/><circle cx="385.5" cy="951.5" r="5.2" fill="#0e8f8c"/>
<circle cx="358.8" cy="979.2" r="11.2" fill="#000"/><circle cx="358.8" cy="979.2" r="8.6" fill="#cbc8cb"/><circle cx="358.8" cy="979.2" r="5.2" fill="#0e8f8c"/>
<circle cx="385.5" cy="979.2" r="11.2" fill="#000"/><circle cx="385.5" cy="979.2" r="8.6" fill="#cbc8cb"/><circle cx="385.5" cy="979.2" r="5.2" fill="#0e8f8c"/>
<rect x="344.7" y="910.7" width="55.20" height="82.60" rx="0" fill="none" stroke="#ffff00" stroke-width="1.8"/>
<text x="401" y="932" font-size="23" fill="#ffff00" textLength="62" lengthAdjust="spacingAndGlyphs">15mA</text>
<text x="401" y="960" font-size="23" fill="#ffff00" textLength="62" lengthAdjust="spacingAndGlyphs">10mA</text>
<text x="404" y="989.5" font-size="23" fill="#ffff00" textLength="48" lengthAdjust="spacingAndGlyphs">6mA</text>
<path d="M312,970 H249.8 V1045 H258 V1055 H249.8 V1076 H312 Z" fill="none" stroke="#ffff00" stroke-width="1.8"/>
<circle cx="276.2" cy="993.7" r="9.8" fill="#ffff00"/>
<circle cx="276.2" cy="1020.6" r="9.8" fill="#ffff00"/>
<circle cx="276.2" cy="1048.2" r="9.8" fill="#ffff00"/>
<text x="313.5" y="999" font-size="18.5" fill="#ffff00" font-weight="bold" textLength="30" lengthAdjust="spacingAndGlyphs">LED</text>
<text x="313.5" y="1028" font-size="18.5" fill="#ffff00" font-weight="bold" textLength="31" lengthAdjust="spacingAndGlyphs">VCC</text>
<text x="313.5" y="1056" font-size="18.5" fill="#ffff00" font-weight="bold" textLength="30" lengthAdjust="spacingAndGlyphs">LED</text>
<path d="M496,908 H533 V1001 H519 A5,5 0 0 0 509,1001 H496 Z" fill="none" stroke="#ffff00" stroke-width="1.8"/>
<rect x="473" y="1009" width="34.00" height="18.00" rx="0" fill="#0000ff"/><rect x="475.6" y="1011.6" width="28.80" height="12.80" rx="0" fill="#ff0000"/><rect x="488.8" y="1009" width="2.40" height="18.00" rx="0" fill="#0000ff"/><rect x="471.8" y="1007.8" width="36.40" height="20.40" rx="5" fill="none" stroke="#ffff00" stroke-width="1.8"/>
<circle cx="446.6" cy="1008.3" r="8" fill="#000"/><circle cx="446.6" cy="1008.3" r="5" fill="#bdb89a"/><circle cx="446.6" cy="1008.3" r="2.8" fill="#7a5a22"/>
<rect x="333.5" y="1060.7" width="8.6" height="23" rx="4.3" fill="#ff0000" stroke="#0000ff" stroke-width="3"/>
<rect x="333.5" y="1113.7" width="8.6" height="23" rx="4.3" fill="#ff0000" stroke="#0000ff" stroke-width="3"/>
<rect x="346.96" y="1060.7" width="8.6" height="23" rx="4.3" fill="#ff0000" stroke="#0000ff" stroke-width="3"/>
<rect x="346.96" y="1113.7" width="8.6" height="23" rx="4.3" fill="#ff0000" stroke="#0000ff" stroke-width="3"/>
<rect x="360.42" y="1060.7" width="8.6" height="23" rx="4.3" fill="#ff0000" stroke="#0000ff" stroke-width="3"/>
<rect x="360.42" y="1113.7" width="8.6" height="23" rx="4.3" fill="#ff0000" stroke="#0000ff" stroke-width="3"/>
<rect x="373.88" y="1060.7" width="8.6" height="23" rx="4.3" fill="#ff0000" stroke="#0000ff" stroke-width="3"/>
<rect x="373.88" y="1113.7" width="8.6" height="23" rx="4.3" fill="#ff0000" stroke="#0000ff" stroke-width="3"/>
<rect x="387.34" y="1060.7" width="8.6" height="23" rx="4.3" fill="#ff0000" stroke="#0000ff" stroke-width="3"/>
<rect x="387.34" y="1113.7" width="8.6" height="23" rx="4.3" fill="#ff0000" stroke="#0000ff" stroke-width="3"/>
<rect x="400.8" y="1060.7" width="8.6" height="23" rx="4.3" fill="#ff0000" stroke="#0000ff" stroke-width="3"/>
<rect x="400.8" y="1113.7" width="8.6" height="23" rx="4.3" fill="#ff0000" stroke="#0000ff" stroke-width="3"/>
<rect x="414.26" y="1060.7" width="8.6" height="23" rx="4.3" fill="#ff0000" stroke="#0000ff" stroke-width="3"/>
<rect x="414.26" y="1113.7" width="8.6" height="23" rx="4.3" fill="#ff0000" stroke="#0000ff" stroke-width="3"/>
<rect x="427.71999999999997" y="1060.7" width="8.6" height="23" rx="4.3" fill="#ff0000" stroke="#0000ff" stroke-width="3"/>
<rect x="427.71999999999997" y="1113.7" width="8.6" height="23" rx="4.3" fill="#ff0000" stroke="#0000ff" stroke-width="3"/>
<rect x="331" y="1087.8" width="107.60" height="23.20" rx="0" fill="none" stroke="#ffff00" stroke-width="1.8"/>
<circle cx="433" cy="1099" r="4.5" fill="#ffff00"/>
<circle cx="441.7" cy="1068" r="4" fill="#ffff00"/>
<circle cx="553.7" cy="1001" r="4" fill="#ffff00"/>
<rect x="356" y="1014" width="33.00" height="17.60" rx="0" fill="#0000ff"/><rect x="358.6" y="1016.6" width="27.80" height="12.40" rx="0" fill="#ff0000"/><rect x="371.3" y="1014" width="2.40" height="17.60" rx="0" fill="#0000ff"/><rect x="354.8" y="1012.8" width="35.40" height="20.00" rx="5" fill="none" stroke="#ffff00" stroke-width="1.8"/>
<rect x="622" y="935" width="94.7" height="53" rx="5" fill="none" stroke="#0000ff" stroke-width="5"/>
<path d="M602.7,1033 V966 L611,958 H668 L676,966 V1033 Z" fill="none" stroke="#ffff00" stroke-width="1.8"/>
<circle cx="639.5" cy="995" r="36" fill="none" stroke="#ffff00" stroke-width="1.8"/>
<path d="M652.5,945 V958 M646,951.5 H659" stroke="#ffff00" stroke-width="1.8"/>
<text x="659" y="964.5" font-size="12.5" fill="#f6d0d0" textLength="21" lengthAdjust="spacingAndGlyphs">12V</text>
<path d="M633,1013 H629 V1048 H633 M645,1013 H649 V1048 H645" fill="none" stroke="#0000ff" stroke-width="3"/>
<path d="M692,938 V914.3 H850 V1011.7 H692 V988" fill="none" stroke="#ffff00" stroke-width="1.8"/>
<rect x="710.5" y="897.0" width="52.5" height="26.0" rx="13.0" fill="#000"/><rect x="713" y="899.5" width="47.5" height="21.0" rx="10.5" fill="#cbc8cb"/><rect x="721" y="905.5" width="31.5" height="9" rx="4.5" fill="#0e8f8c"/>
<rect x="690.5" y="938.0" width="23.200000000000045" height="51.5" rx="11.600000000000023" fill="#0000ff"/><rect x="693" y="940.5" width="18.200000000000045" height="46.5" rx="9.100000000000023" fill="#cbc8cb"/><rect x="697.6" y="948.5" width="9" height="30.5" rx="4.5" fill="#0e8f8c"/>
<rect x="756.0" y="938.0" width="25.100000000000023" height="51.5" rx="12.550000000000011" fill="#000"/><rect x="758.5" y="940.5" width="20.100000000000023" height="46.5" rx="10.050000000000011" fill="#cbc8cb"/><rect x="764.05" y="948.5" width="9" height="30.5" rx="4.5" fill="#0e8f8c"/>
<circle cx="794.1" cy="1067" r="13" fill="#000"/><circle cx="794.1" cy="1067" r="9.7" fill="#cbc8cb"/><circle cx="794.1" cy="1067" r="4.8" fill="#0e8f8c"/>
<circle cx="794.1" cy="1093.6" r="13" fill="#000"/><circle cx="794.1" cy="1093.6" r="9.7" fill="#cbc8cb"/><circle cx="794.1" cy="1093.6" r="4.8" fill="#0e8f8c"/>
<circle cx="794.1" cy="1121.2" r="13" fill="#000"/><circle cx="794.1" cy="1121.2" r="9.7" fill="#cbc8cb"/><circle cx="794.1" cy="1121.2" r="4.8" fill="#0e8f8c"/>
<path d="M759.4,1038.5 H821 V1063.2 H810.7 V1070.8 H821 V1117.4 H810.7 V1125 H821 V1146.4 H759.4 Z" fill="none" stroke="#ffff00" stroke-width="1.8"/>
<text x="723.5" y="1070.4" font-size="16.5" fill="#ffff00" font-weight="bold" textLength="31" lengthAdjust="spacingAndGlyphs">GND</text>
<text x="723.5" y="1098.4" font-size="16.5" fill="#ffff00" font-weight="bold" textLength="31" lengthAdjust="spacingAndGlyphs">RXD</text>
<text x="723.5" y="1126" font-size="16.5" fill="#ffff00" font-weight="bold" textLength="31" lengthAdjust="spacingAndGlyphs">TXD</text>
<path d="M704,1040 V1034 H710 M715,1034 H721 V1040 M704,1045 V1051 H710 M715,1051 H721 V1045" fill="none" stroke="#0000ff" stroke-width="3"/>
<path d="M704,1127 V1121 H710 M715,1121 H721 V1127 M704,1132 V1138 H710 M715,1138 H721 V1132" fill="none" stroke="#0000ff" stroke-width="3"/>
<rect x="705" y="1053" width="15.00" height="11.00" rx="0" fill="none" stroke="#ffff00" stroke-width="1.8"/>
<path d="M705,1058.5 H720" fill="none" stroke="#ffff00" stroke-width="1.8"/>
<rect x="705" y="1108" width="15.00" height="11.00" rx="0" fill="none" stroke="#ffff00" stroke-width="1.8"/>
<path d="M705,1113.5 H720" fill="none" stroke="#ffff00" stroke-width="1.8"/>
<rect x="700" y="1067" width="22.00" height="16.00" rx="0" fill="#0000ff"/><rect x="703" y="1070" width="16.00" height="10.00" rx="0" fill="#ff0000"/>
<rect x="700" y="1091" width="22.00" height="16.00" rx="0" fill="#0000ff"/><rect x="703" y="1094" width="16.00" height="10.00" rx="0" fill="#ff0000"/>
<path d="M713,1028 V1036 M709,1032 H717 M713,1138 V1146 M709,1142 H717" stroke="#2e7a2e" stroke-width="1.6"/>
<rect x="665" y="1069.0" width="16.00" height="15.00" rx="0" fill="#0000ff"/><rect x="667.6" y="1071.6" width="10.80" height="9.80" rx="0" fill="#ff0000"/><rect x="665" y="1075.3" width="16.00" height="2.40" rx="0" fill="#0000ff"/><rect x="663.8" y="1067.8" width="18.40" height="17.40" rx="3" fill="none" stroke="#ffff00" stroke-width="1.8"/>
<rect x="684" y="1069.0" width="16.00" height="15.00" rx="0" fill="#0000ff"/><rect x="686.6" y="1071.6" width="10.80" height="9.80" rx="0" fill="#ff0000"/><rect x="684" y="1075.3" width="16.00" height="2.40" rx="0" fill="#0000ff"/><rect x="682.8" y="1067.8" width="18.40" height="17.40" rx="3" fill="none" stroke="#ffff00" stroke-width="1.8"/>
<rect x="665" y="1086.5" width="16.00" height="15.00" rx="0" fill="#0000ff"/><rect x="667.6" y="1089.1" width="10.80" height="9.80" rx="0" fill="#ff0000"/><rect x="665" y="1092.8" width="16.00" height="2.40" rx="0" fill="#0000ff"/><rect x="663.8" y="1085.3" width="18.40" height="17.40" rx="3" fill="none" stroke="#ffff00" stroke-width="1.8"/>
<rect x="684" y="1086.5" width="16.00" height="15.00" rx="0" fill="#0000ff"/><rect x="686.6" y="1089.1" width="10.80" height="9.80" rx="0" fill="#ff0000"/><rect x="684" y="1092.8" width="16.00" height="2.40" rx="0" fill="#0000ff"/><rect x="682.8" y="1085.3" width="18.40" height="17.40" rx="3" fill="none" stroke="#ffff00" stroke-width="1.8"/>
<rect x="665" y="1104.0" width="16.00" height="15.00" rx="0" fill="#0000ff"/><rect x="667.6" y="1106.6" width="10.80" height="9.80" rx="0" fill="#ff0000"/><rect x="665" y="1110.3" width="16.00" height="2.40" rx="0" fill="#0000ff"/><rect x="663.8" y="1102.8" width="18.40" height="17.40" rx="3" fill="none" stroke="#ffff00" stroke-width="1.8"/>
<rect x="684" y="1104.0" width="16.00" height="15.00" rx="0" fill="#0000ff"/><rect x="686.6" y="1106.6" width="10.80" height="9.80" rx="0" fill="#ff0000"/><rect x="684" y="1110.3" width="16.00" height="2.40" rx="0" fill="#0000ff"/><rect x="682.8" y="1102.8" width="18.40" height="17.40" rx="3" fill="none" stroke="#ffff00" stroke-width="1.8"/>
<circle cx="674" cy="1093" r="11" fill="none" stroke="#9b9bb0" stroke-width="1.2"/><path d="M666,1085 L682,1101 M682,1085 L666,1101" stroke="#9b9bb0" stroke-width="1.2"/>
<rect x="667" y="1121.0" width="19.00" height="16.00" rx="0" fill="#0000ff"/><rect x="669.6" y="1123.6" width="13.80" height="10.80" rx="0" fill="#ff0000"/><rect x="667" y="1127.8" width="19.00" height="2.40" rx="0" fill="#0000ff"/><rect x="665.8" y="1119.8" width="21.40" height="18.40" rx="4" fill="none" stroke="#ffff00" stroke-width="1.8"/>
<rect x="667" y="1138.7" width="19.00" height="16.00" rx="0" fill="#0000ff"/><rect x="669.6" y="1141.3" width="13.80" height="10.80" rx="0" fill="#ff0000"/><rect x="667" y="1145.5" width="19.00" height="2.40" rx="0" fill="#0000ff"/><rect x="665.8" y="1137.5" width="21.40" height="18.40" rx="4" fill="none" stroke="#ffff00" stroke-width="1.8"/>
<rect x="667" y="1156.4" width="19.00" height="16.00" rx="0" fill="#0000ff"/><rect x="669.6" y="1159.0" width="13.80" height="10.80" rx="0" fill="#ff0000"/><rect x="667" y="1163.2" width="19.00" height="2.40" rx="0" fill="#0000ff"/><rect x="665.8" y="1155.2" width="21.40" height="18.40" rx="4" fill="none" stroke="#ffff00" stroke-width="1.8"/>
<rect x="667" y="1174.1" width="19.00" height="16.00" rx="0" fill="#0000ff"/><rect x="669.6" y="1176.6999999999998" width="13.80" height="10.80" rx="0" fill="#ff0000"/><rect x="667" y="1180.8999999999999" width="19.00" height="2.40" rx="0" fill="#0000ff"/><rect x="665.8" y="1172.8999999999999" width="21.40" height="18.40" rx="4" fill="none" stroke="#ffff00" stroke-width="1.8"/>
<rect x="549.5" y="1077.75" width="21" height="8.5" rx="4.25" fill="#ff0000" stroke="#0000ff" stroke-width="5.5"/>
<rect x="605.5" y="1077.75" width="21" height="8.5" rx="4.25" fill="#ff0000" stroke="#0000ff" stroke-width="5.5"/>
<rect x="549.5" y="1091.15" width="21" height="8.5" rx="4.25" fill="#ff0000" stroke="#0000ff" stroke-width="5.5"/>
<rect x="605.5" y="1091.15" width="21" height="8.5" rx="4.25" fill="#ff0000" stroke="#0000ff" stroke-width="5.5"/>
<rect x="549.5" y="1104.55" width="21" height="8.5" rx="4.25" fill="#ff0000" stroke="#0000ff" stroke-width="5.5"/>
<rect x="605.5" y="1104.55" width="21" height="8.5" rx="4.25" fill="#ff0000" stroke="#0000ff" stroke-width="5.5"/>
<rect x="549.5" y="1117.95" width="21" height="8.5" rx="4.25" fill="#ff0000" stroke="#0000ff" stroke-width="5.5"/>
<rect x="605.5" y="1117.95" width="21" height="8.5" rx="4.25" fill="#ff0000" stroke="#0000ff" stroke-width="5.5"/>
<rect x="549.5" y="1131.35" width="21" height="8.5" rx="4.25" fill="#ff0000" stroke="#0000ff" stroke-width="5.5"/>
<rect x="605.5" y="1131.35" width="21" height="8.5" rx="4.25" fill="#ff0000" stroke="#0000ff" stroke-width="5.5"/>
<rect x="549.5" y="1144.75" width="21" height="8.5" rx="4.25" fill="#ff0000" stroke="#0000ff" stroke-width="5.5"/>
<rect x="605.5" y="1144.75" width="21" height="8.5" rx="4.25" fill="#ff0000" stroke="#0000ff" stroke-width="5.5"/>
<rect x="549.5" y="1158.15" width="21" height="8.5" rx="4.25" fill="#ff0000" stroke="#0000ff" stroke-width="5.5"/>
<rect x="605.5" y="1158.15" width="21" height="8.5" rx="4.25" fill="#ff0000" stroke="#0000ff" stroke-width="5.5"/>
<rect x="549.5" y="1171.55" width="21" height="8.5" rx="4.25" fill="#ff0000" stroke="#0000ff" stroke-width="5.5"/>
<rect x="605.5" y="1171.55" width="21" height="8.5" rx="4.25" fill="#ff0000" stroke="#0000ff" stroke-width="5.5"/>
<rect x="549.5" y="1184.95" width="21" height="8.5" rx="4.25" fill="#ff0000" stroke="#0000ff" stroke-width="5.5"/>
<rect x="605.5" y="1184.95" width="21" height="8.5" rx="4.25" fill="#ff0000" stroke="#0000ff" stroke-width="5.5"/>
<path d="M575.2,1075 V1185.2 H583 A5,5 0 0 1 593,1185.2 H600.3 V1075 Z" fill="none" stroke="#ffff00" stroke-width="1.8"/>
<rect x="567" y="1192" width="16.00" height="18.00" rx="0" fill="#0000ff"/><rect x="569.6" y="1194.6" width="10.80" height="12.80" rx="0" fill="#ff0000"/><rect x="567" y="1199.8" width="16.00" height="2.40" rx="0" fill="#0000ff"/><rect x="565.8" y="1190.8" width="18.40" height="20.40" rx="3" fill="none" stroke="#ffff00" stroke-width="1.8"/>
<rect x="584" y="1192" width="16.00" height="18.00" rx="0" fill="#0000ff"/><rect x="586.6" y="1194.6" width="10.80" height="12.80" rx="0" fill="#ff0000"/><rect x="584" y="1199.8" width="16.00" height="2.40" rx="0" fill="#0000ff"/><rect x="582.8" y="1190.8" width="18.40" height="20.40" rx="3" fill="none" stroke="#ffff00" stroke-width="1.8"/>
<circle cx="154.8" cy="1159" r="17.8" fill="#ff0000" stroke="#0000ff" stroke-width="4.5"/><circle cx="154.8" cy="1159" r="15.4" fill="none" stroke="#ff00ff" stroke-width="1.4"/>
<rect x="189" y="1131.3" width="21.00" height="21.00" rx="0" fill="#000"/>
<rect x="191.2" y="1133.5" width="16.6" height="16.6" fill="#cbc8cb"/><circle cx="199.5" cy="1141.8" r="4.8" fill="#0e8f8c"/>
<circle cx="226.7" cy="1141.2" r="11.5" fill="#000"/><circle cx="226.7" cy="1141.2" r="8.5" fill="#cbc8cb"/><circle cx="226.7" cy="1141.2" r="4.8" fill="#0e8f8c"/>
<circle cx="254" cy="1141.2" r="11.5" fill="#000"/><circle cx="254" cy="1141.2" r="8.5" fill="#cbc8cb"/><circle cx="254" cy="1141.2" r="4.8" fill="#0e8f8c"/>
<circle cx="280.8" cy="1141.2" r="11.5" fill="#000"/><circle cx="280.8" cy="1141.2" r="8.5" fill="#cbc8cb"/><circle cx="280.8" cy="1141.2" r="4.8" fill="#0e8f8c"/>
<rect x="185.7" y="1128" width="110.60" height="27.60" rx="0" fill="none" stroke="#ffff00" stroke-width="1.8"/>
<path d="M280.8,1150 V1168 L298,1185 H340" fill="none" stroke="#0000ff" stroke-width="8" stroke-linejoin="round" stroke-linecap="round"/><path d="M292,1150 L292,1162 L320,1190 H340" fill="none" stroke="#0000ff" stroke-width="8" stroke-linejoin="round" stroke-linecap="round"/><path d="M246,1217 H340" fill="none" stroke="#0000ff" stroke-width="8" stroke-linejoin="round" stroke-linecap="round"/><path d="M280.8,1150 V1168 L298,1185 H340" fill="none" stroke="#ff0000" stroke-width="3" stroke-linejoin="round" stroke-linecap="round"/><path d="M292,1150 L292,1162 L320,1190 H340" fill="none" stroke="#ff0000" stroke-width="3" stroke-linejoin="round" stroke-linecap="round"/><path d="M246,1217 H340" fill="none" stroke="#ff0000" stroke-width="3" stroke-linejoin="round" stroke-linecap="round"/>
<circle cx="196" cy="1172.7" r="11.5" fill="#0000ff"/><circle cx="196" cy="1172.7" r="9" fill="#000"/><circle cx="196" cy="1172.7" r="6" fill="#c6c2a2"/><circle cx="196" cy="1172.7" r="3.2" fill="#7a5a22"/>
<rect x="202.7" y="1163.3" width="42.60" height="18.70" rx="0" fill="none" stroke="#ffff00" stroke-width="1.8"/>
<rect x="241" y="1165" width="3.00" height="16.00" rx="0" fill="#0000ff"/>
<text x="213" y="1176" font-size="7.5" fill="#ffd6d6" >2 : 12V</text>
<rect x="250" y="1179.5" width="22.00" height="12.50" rx="0" fill="#0000ff"/><rect x="252.6" y="1182.1" width="16.80" height="7.30" rx="0" fill="#ff0000"/><rect x="259.8" y="1179.5" width="2.40" height="12.50" rx="0" fill="#0000ff"/><rect x="248.8" y="1178.3" width="24.40" height="14.90" rx="5" fill="none" stroke="#ffff00" stroke-width="1.8"/>
<rect x="277.5" y="1194" width="14.50" height="13.00" rx="0" fill="#0000ff"/><rect x="280.1" y="1196.6" width="9.30" height="7.80" rx="0" fill="#ff0000"/><rect x="283.55" y="1194" width="2.40" height="13.00" rx="0" fill="#0000ff"/><rect x="276.3" y="1192.8" width="16.90" height="15.40" rx="5" fill="none" stroke="#ffff00" stroke-width="1.8"/>
<rect x="202.7" y="1211.3" width="43.30" height="18.70" rx="0" fill="#0000ff"/>
<rect x="205" y="1213.5" width="39.00" height="14.50" rx="0" fill="#ff0000"/>
<rect x="202.7" y="1211.3" width="43.30" height="18.70" rx="0" fill="none" stroke="#ffff00" stroke-width="1.8"/>
<text x="210" y="1224" font-size="6.5" fill="#ffd6d6" >1 : NetC2_2</text>
<rect x="250" y="1213" width="22.00" height="15.00" rx="0" fill="#0000ff"/><rect x="252.6" y="1215.6" width="16.80" height="9.80" rx="0" fill="#ff0000"/><rect x="259.8" y="1213" width="2.40" height="15.00" rx="0" fill="#0000ff"/><rect x="248.8" y="1211.8" width="24.40" height="17.40" rx="5" fill="none" stroke="#ffff00" stroke-width="1.8"/>
<rect x="276" y="1211.5" width="16.50" height="13.50" rx="0" fill="#0000ff"/><rect x="278.6" y="1214.1" width="11.30" height="8.30" rx="0" fill="#ff0000"/><rect x="283.05" y="1211.5" width="2.40" height="13.50" rx="0" fill="#0000ff"/><rect x="274.8" y="1210.3" width="18.90" height="15.90" rx="5" fill="none" stroke="#ffff00" stroke-width="1.8"/>
<path d="M309,1161.5 H314 M332,1161.5 H337.3 V1175.3 H332 M314,1175.3 H309 V1161.5" fill="none" stroke="#0000ff" stroke-width="3"/>
<path d="M374.7,1212.7 V1172.7 H410 V1212.7 Z" fill="#ff0000" stroke="#0000ff" stroke-width="3.5"/>
<text x="386" y="1195" font-size="8" fill="#ffd6d6" >2</text>
<text x="379" y="1204" font-size="8" fill="#ffd6d6" >3.3V</text>
<rect x="340" y="1160.5" width="32.00" height="65.90" rx="0" fill="#ff0000"/>
<rect x="340" y="1161.5" width="31.50" height="65.00" rx="0" fill="none" stroke="#ffff00" stroke-width="1.8"/>
<rect x="340" y="1187.3" width="32.00" height="3.50" rx="0" fill="#0000ff"/>
<rect x="340" y="1196" width="32.00" height="2.80" rx="0" fill="#0000ff"/>
<rect x="412" y="1172.8" width="25.00" height="18.90" rx="0" fill="#0000ff"/><rect x="414.6" y="1175.3999999999999" width="19.80" height="13.70" rx="0" fill="#ff0000"/><rect x="423.3" y="1172.8" width="2.40" height="18.90" rx="0" fill="#0000ff"/><rect x="410.8" y="1171.6" width="27.40" height="21.30" rx="5" fill="none" stroke="#ffff00" stroke-width="1.8"/>
<rect x="412" y="1205" width="25.00" height="17.00" rx="0" fill="#0000ff"/><rect x="414.6" y="1207.6" width="19.80" height="11.80" rx="0" fill="#ff0000"/><rect x="423.3" y="1205" width="2.40" height="17.00" rx="0" fill="#0000ff"/><rect x="410.8" y="1203.8" width="27.40" height="19.40" rx="5" fill="none" stroke="#ffff00" stroke-width="1.8"/>
<rect x="439" y="1170.8" width="17.70" height="33.20" rx="0" fill="#0000ff"/><rect x="441.6" y="1173.3999999999999" width="12.50" height="28.00" rx="0" fill="#ff0000"/><rect x="439" y="1186.2" width="17.70" height="2.40" rx="0" fill="#0000ff"/><rect x="437.8" y="1169.6" width="20.10" height="35.60" rx="5" fill="none" stroke="#ffff00" stroke-width="1.8"/>
<circle cx="447" cy="1151.4" r="9" fill="#000"/><circle cx="447" cy="1151.4" r="5.5" fill="#c0bb9c"/><circle cx="447" cy="1151.4" r="3" fill="#7a5a22"/>
<rect x="483.3" y="1119" width="18.70" height="67.00" rx="0" fill="#0000ff"/><rect x="485.90000000000003" y="1121.6" width="13.50" height="61.80" rx="0" fill="#ff0000"/><rect x="483.3" y="1151.3" width="18.70" height="2.40" rx="0" fill="#0000ff"/><rect x="482.1" y="1117.8" width="21.10" height="69.40" rx="5" fill="none" stroke="#ffff00" stroke-width="1.8"/>
<rect x="483" y="1139" width="19.00" height="2.00" rx="0" fill="#0000ff"/>
<path d="M492,1154 V1168 M485,1161 H499" stroke="#2e7a2e" stroke-width="3"/>
<rect x="485" y="1109" width="15.00" height="4.00" rx="0" fill="#2e7a2e"/>
<rect x="505" y="1168" width="18.80" height="33.00" rx="0" fill="#0000ff"/><rect x="507.6" y="1170.6" width="13.60" height="27.80" rx="0" fill="#ff0000"/><rect x="505" y="1183.3" width="18.80" height="2.40" rx="0" fill="#0000ff"/><rect x="503.8" y="1166.8" width="21.20" height="35.40" rx="5" fill="none" stroke="#ffff00" stroke-width="1.8"/>
<circle cx="162" cy="877" r="2.8" fill="#a9b9a9"/><circle cx="162" cy="877" r="1.26" fill="#3d6a3d"/>
<circle cx="217" cy="872" r="2.8" fill="#a9b9a9"/><circle cx="217" cy="872" r="1.26" fill="#3d6a3d"/>
<circle cx="251" cy="913" r="2.8" fill="#a9b9a9"/><circle cx="251" cy="913" r="1.26" fill="#3d6a3d"/>
<circle cx="251" cy="966" r="2.8" fill="#a9b9a9"/><circle cx="251" cy="966" r="1.26" fill="#3d6a3d"/>
<circle cx="265" cy="1060" r="2.8" fill="#a9b9a9"/><circle cx="265" cy="1060" r="1.26" fill="#3d6a3d"/>
<circle cx="162" cy="942" r="2.8" fill="#a9b9a9"/><circle cx="162" cy="942" r="1.26" fill="#3d6a3d"/>
<circle cx="178" cy="942" r="2.8" fill="#a9b9a9"/><circle cx="178" cy="942" r="1.26" fill="#3d6a3d"/>
<circle cx="212" cy="945" r="2.8" fill="#a9b9a9"/><circle cx="212" cy="945" r="1.26" fill="#3d6a3d"/>
<circle cx="272" cy="950" r="2.8" fill="#a9b9a9"/><circle cx="272" cy="950" r="1.26" fill="#3d6a3d"/>
<circle cx="296" cy="1020" r="2.8" fill="#a9b9a9"/><circle cx="296" cy="1020" r="1.26" fill="#3d6a3d"/>
<circle cx="283" cy="1048" r="2.8" fill="#a9b9a9"/><circle cx="283" cy="1048" r="1.26" fill="#3d6a3d"/>
<circle cx="322" cy="1000" r="2.8" fill="#a9b9a9"/><circle cx="322" cy="1000" r="1.26" fill="#3d6a3d"/>
<circle cx="421" cy="1010" r="2.8" fill="#a9b9a9"/><circle cx="421" cy="1010" r="1.26" fill="#3d6a3d"/>
<circle cx="451" cy="1000" r="2.8" fill="#a9b9a9"/><circle cx="451" cy="1000" r="1.26" fill="#3d6a3d"/>
<circle cx="470" cy="1003" r="2.8" fill="#a9b9a9"/><circle cx="470" cy="1003" r="1.26" fill="#3d6a3d"/>
<circle cx="516" cy="1002" r="2.8" fill="#a9b9a9"/><circle cx="516" cy="1002" r="1.26" fill="#3d6a3d"/>
<circle cx="570" cy="1000" r="2.8" fill="#a9b9a9"/><circle cx="570" cy="1000" r="1.26" fill="#3d6a3d"/>
<circle cx="605" cy="1028" r="2.8" fill="#a9b9a9"/><circle cx="605" cy="1028" r="1.26" fill="#3d6a3d"/>
<circle cx="650" cy="1045" r="2.8" fill="#a9b9a9"/><circle cx="650" cy="1045" r="1.26" fill="#3d6a3d"/>
<circle cx="676" cy="1063" r="2.8" fill="#a9b9a9"/><circle cx="676" cy="1063" r="1.26" fill="#3d6a3d"/>
<circle cx="610" cy="1173" r="2.8" fill="#a9b9a9"/><circle cx="610" cy="1173" r="1.26" fill="#3d6a3d"/>
<circle cx="576" cy="1215" r="2.8" fill="#a9b9a9"/><circle cx="576" cy="1215" r="1.26" fill="#3d6a3d"/>
<circle cx="616" cy="1208" r="2.8" fill="#a9b9a9"/><circle cx="616" cy="1208" r="1.26" fill="#3d6a3d"/>
<circle cx="532" cy="1197" r="2.8" fill="#a9b9a9"/><circle cx="532" cy="1197" r="1.26" fill="#3d6a3d"/>
<circle cx="493" cy="1203" r="2.8" fill="#a9b9a9"/><circle cx="493" cy="1203" r="1.26" fill="#3d6a3d"/>
<circle cx="472" cy="1190" r="2.8" fill="#a9b9a9"/><circle cx="472" cy="1190" r="1.26" fill="#3d6a3d"/>
<circle cx="352" cy="1188" r="2.8" fill="#a9b9a9"/><circle cx="352" cy="1188" r="1.26" fill="#3d6a3d"/>
<circle cx="367" cy="1204" r="2.8" fill="#a9b9a9"/><circle cx="367" cy="1204" r="1.26" fill="#3d6a3d"/>
<circle cx="446" cy="1210" r="2.8" fill="#a9b9a9"/><circle cx="446" cy="1210" r="1.26" fill="#3d6a3d"/>
<circle cx="120" cy="1136" r="2.8" fill="#a9b9a9"/><circle cx="120" cy="1136" r="1.26" fill="#3d6a3d"/>
<circle cx="140" cy="1208" r="2.8" fill="#a9b9a9"/><circle cx="140" cy="1208" r="1.26" fill="#3d6a3d"/>
<circle cx="165" cy="1176" r="2.8" fill="#a9b9a9"/><circle cx="165" cy="1176" r="1.26" fill="#3d6a3d"/>
<circle cx="110" cy="1098" r="2.8" fill="#a9b9a9"/><circle cx="110" cy="1098" r="1.26" fill="#3d6a3d"/>
<circle cx="104" cy="1127" r="2.8" fill="#a9b9a9"/><circle cx="104" cy="1127" r="1.26" fill="#3d6a3d"/>
<circle cx="180" cy="1124" r="2.8" fill="#a9b9a9"/><circle cx="180" cy="1124" r="1.26" fill="#3d6a3d"/>
<circle cx="230" cy="1168" r="2.8" fill="#a9b9a9"/><circle cx="230" cy="1168" r="1.26" fill="#3d6a3d"/>
<circle cx="300" cy="1212" r="2.8" fill="#a9b9a9"/><circle cx="300" cy="1212" r="1.26" fill="#3d6a3d"/>
<circle cx="300" cy="1180" r="2.8" fill="#a9b9a9"/><circle cx="300" cy="1180" r="1.26" fill="#3d6a3d"/>
<circle cx="600" cy="1175" r="2.8" fill="#a9b9a9"/><circle cx="600" cy="1175" r="1.26" fill="#3d6a3d"/>
<circle cx="625" cy="1040" r="2.8" fill="#a9b9a9"/><circle cx="625" cy="1040" r="1.26" fill="#3d6a3d"/>
<circle cx="665" cy="1175" r="2.8" fill="#a9b9a9"/><circle cx="665" cy="1175" r="1.26" fill="#3d6a3d"/>
<circle cx="738" cy="1175" r="2.8" fill="#a9b9a9"/><circle cx="738" cy="1175" r="1.26" fill="#3d6a3d"/>
<circle cx="749" cy="1023" r="2.8" fill="#a9b9a9"/><circle cx="749" cy="1023" r="1.26" fill="#3d6a3d"/>
<circle cx="776" cy="1045" r="2.8" fill="#a9b9a9"/><circle cx="776" cy="1045" r="1.26" fill="#3d6a3d"/>
<circle cx="748" cy="1142" r="2.8" fill="#a9b9a9"/><circle cx="748" cy="1142" r="1.26" fill="#3d6a3d"/>
<circle cx="716" cy="1155" r="2.8" fill="#a9b9a9"/><circle cx="716" cy="1155" r="1.26" fill="#3d6a3d"/>
<circle cx="535" cy="1013" r="2.8" fill="#a9b9a9"/><circle cx="535" cy="1013" r="1.26" fill="#3d6a3d"/>
<circle cx="462" cy="1138" r="2.8" fill="#a9b9a9"/><circle cx="462" cy="1138" r="1.26" fill="#3d6a3d"/>
<circle cx="520" cy="1145" r="2.8" fill="#a9b9a9"/><circle cx="520" cy="1145" r="1.26" fill="#3d6a3d"/>
<circle cx="585" cy="1145" r="2.8" fill="#a9b9a9"/><circle cx="585" cy="1145" r="1.26" fill="#3d6a3d"/>
<circle cx="700" cy="1216" r="2.8" fill="#a9b9a9"/><circle cx="700" cy="1216" r="1.26" fill="#3d6a3d"/>
<circle cx="560" cy="888" r="2.8" fill="#a9b9a9"/><circle cx="560" cy="888" r="1.26" fill="#3d6a3d"/>
<circle cx="640" cy="888" r="2.8" fill="#a9b9a9"/><circle cx="640" cy="888" r="1.26" fill="#3d6a3d"/>
<circle cx="665" cy="878" r="2.8" fill="#a9b9a9"/><circle cx="665" cy="878" r="1.26" fill="#3d6a3d"/>
<circle cx="413" cy="910" r="2.8" fill="#a9b9a9"/><circle cx="413" cy="910" r="1.26" fill="#3d6a3d"/>
<circle cx="435" cy="925" r="2.8" fill="#a9b9a9"/><circle cx="435" cy="925" r="1.26" fill="#3d6a3d"/>
<circle cx="200" cy="1097" r="2.8" fill="#a9b9a9"/><circle cx="200" cy="1097" r="1.26" fill="#3d6a3d"/>
<circle cx="265" cy="1123" r="2.8" fill="#a9b9a9"/><circle cx="265" cy="1123" r="1.26" fill="#3d6a3d"/>
<circle cx="235" cy="1131" r="2.8" fill="#a9b9a9"/><circle cx="235" cy="1131" r="1.26" fill="#3d6a3d"/>
<circle cx="320" cy="1173" r="2.8" fill="#a9b9a9"/><circle cx="320" cy="1173" r="1.26" fill="#3d6a3d"/>
<circle cx="350" cy="1110" r="2.8" fill="#a9b9a9"/><circle cx="350" cy="1110" r="1.26" fill="#3d6a3d"/>
<rect x="65.5" y="781.5" width="754.5" height="451.5" fill="none" stroke="#ff00ff" stroke-width="1.6" stroke-dasharray="2.5 1.5"/>
<rect x="65.5" y="781.5" width="754.5" height="451.5" fill="none" stroke="#ffffff" stroke-opacity="0.45" stroke-width="1.6" stroke-dasharray="1.2 2.8"/>
</svg>
</body></html>
